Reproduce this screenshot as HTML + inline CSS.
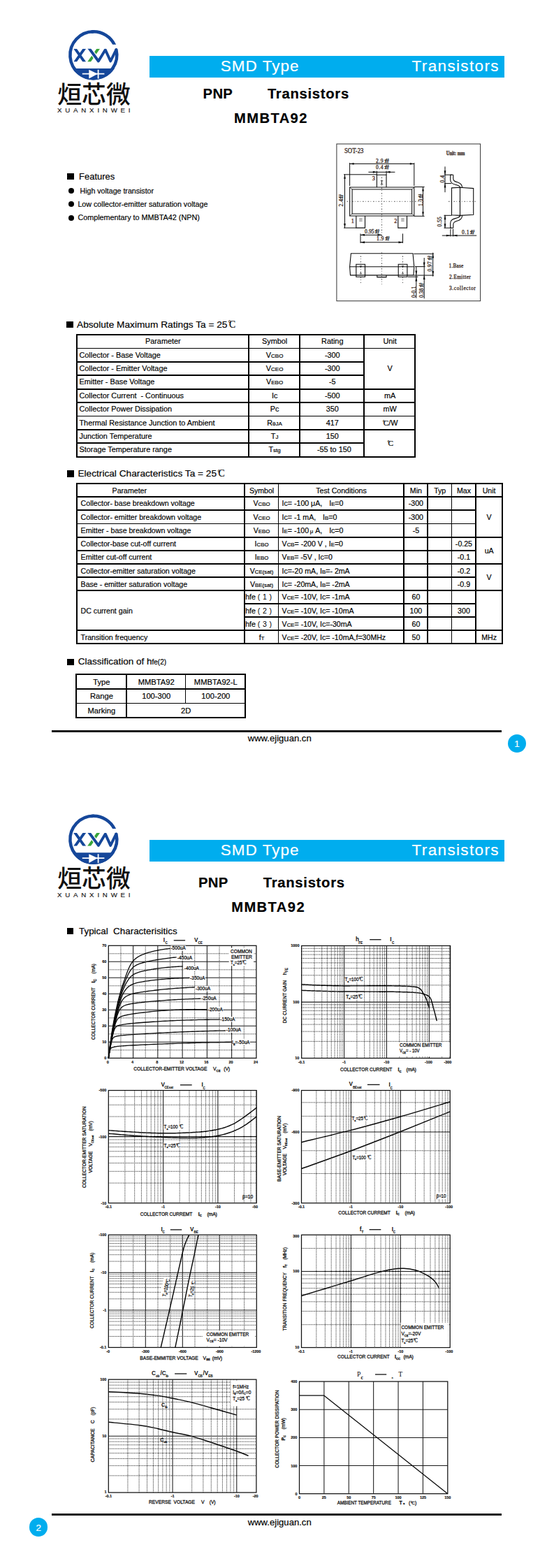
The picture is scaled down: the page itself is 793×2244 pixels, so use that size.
<!DOCTYPE html>
<html><head><meta charset="utf-8"><title>MMBTA92</title>
<style>
html,body{margin:0;padding:0;background:#fff}
#pg{position:relative;width:793px;height:2244px;overflow:hidden;background:#fff;font-family:"Liberation Sans",sans-serif;color:#000}
.t{position:absolute;white-space:nowrap;-webkit-text-stroke:0.18px currentColor}
.r{position:absolute}
#ov{position:absolute;left:0;top:0}
svg text{font-family:"Liberation Sans",sans-serif}
</style></head>
<body>
<div id="pg">
<div class="t" style="left:82.00px;top:153.49px;font-size:9.7px;line-height:9.7px;letter-spacing:4.8px;color:#1a1a1a;">XUANXINWEI</div>
<div class="r" style="left:214.00px;top:80.00px;width:508.00px;height:30.50px;background:#00adee"></div>
<div class="t" style="left:315.80px;top:83.65px;font-size:22.5px;line-height:22.5px;letter-spacing:1.0px;color:#fff;">SMD Type</div>
<div class="t" style="left:589.60px;top:83.65px;font-size:22.5px;line-height:22.5px;letter-spacing:1.35px;color:#fff;">Transistors</div>
<div class="t" style="left:290.60px;top:124.42px;font-size:20.3px;line-height:20.3px;font-weight:bold;letter-spacing:0.3px;">PNP</div>
<div class="t" style="left:382.90px;top:124.42px;font-size:20.3px;line-height:20.3px;font-weight:bold;letter-spacing:0.7px;">Transistors</div>
<div class="t" style="left:335.00px;top:159.40px;font-size:20.2px;line-height:20.2px;font-weight:bold;letter-spacing:1.4px;">MMBTA92</div>
<div class="r" style="left:96.10px;top:247.80px;width:9.60px;height:9.40px;background:#000"></div>
<div class="t" style="left:113.00px;top:246.20px;font-size:13px;line-height:13px;">Features</div>
<div class="r" style="left:98.3px;top:269.30px;width:7.8px;height:7.8px;border-radius:50%;background:#000"></div>
<div class="t" style="left:114.60px;top:267.93px;font-size:10.6px;line-height:10.6px;">High voltage transistor</div>
<div class="r" style="left:98.3px;top:288.30px;width:7.8px;height:7.8px;border-radius:50%;background:#000"></div>
<div class="t" style="left:111.40px;top:286.84px;font-size:10.7px;line-height:10.7px;">Low collector-emitter saturation voltage</div>
<div class="r" style="left:98.3px;top:307.90px;width:7.8px;height:7.8px;border-radius:50%;background:#000"></div>
<div class="t" style="left:111.40px;top:306.36px;font-size:10.8px;line-height:10.8px;">Complementary to MMBTA42 (NPN)</div>
<div class="r" style="left:95.00px;top:460.00px;width:9.60px;height:9.20px;background:#000"></div>
<div class="t" style="left:110.00px;top:457.60px;font-size:13.7px;line-height:13.7px;">Absolute Maximum Ratings Ta = 25<span style="font-family:'Liberation Serif',serif;font-size:1.0em;letter-spacing:-0.2em;margin-left:0.1em;margin-right:0.2em"><span style="font-size:0.7em;position:relative;top:-0.22em">°</span>C</span></div>
<div class="r" style="left:108.50px;top:478.10px;width:486.60px;height:2.20px;background:#000"></div>
<div class="r" style="left:108.50px;top:652.61px;width:486.60px;height:2.20px;background:#000"></div>
<div class="r" style="left:108.50px;top:479.20px;width:2.20px;height:174.51px;background:#000"></div>
<div class="r" style="left:592.90px;top:479.20px;width:2.20px;height:174.51px;background:#000"></div>
<div class="r" style="left:355.10px;top:479.20px;width:1.80px;height:174.51px;background:#000"></div>
<div class="r" style="left:428.30px;top:479.20px;width:1.80px;height:174.51px;background:#000"></div>
<div class="r" style="left:520.40px;top:479.20px;width:1.80px;height:174.51px;background:#000"></div>
<div class="r" style="left:109.60px;top:497.69px;width:484.40px;height:1.80px;background:#000"></div>
<div class="r" style="left:109.60px;top:517.08px;width:411.70px;height:1.80px;background:#000"></div>
<div class="r" style="left:109.60px;top:536.47px;width:411.70px;height:1.80px;background:#000"></div>
<div class="r" style="left:109.60px;top:555.86px;width:484.40px;height:1.80px;background:#000"></div>
<div class="r" style="left:109.60px;top:575.25px;width:484.40px;height:1.80px;background:#000"></div>
<div class="r" style="left:109.60px;top:594.64px;width:484.40px;height:1.80px;background:#000"></div>
<div class="r" style="left:109.60px;top:614.03px;width:484.40px;height:1.80px;background:#000"></div>
<div class="r" style="left:109.60px;top:633.42px;width:411.70px;height:1.80px;background:#000"></div>
<div class="t" style="left:233.30px;top:483.22px;font-size:10.85px;line-height:10.85px;transform:translateX(-50%);">Parameter</div>
<div class="t" style="left:393.10px;top:483.22px;font-size:10.85px;line-height:10.85px;transform:translateX(-50%);">Symbol</div>
<div class="t" style="left:475.75px;top:483.22px;font-size:10.85px;line-height:10.85px;transform:translateX(-50%);">Rating</div>
<div class="t" style="left:558.15px;top:483.22px;font-size:10.85px;line-height:10.85px;transform:translateX(-50%);">Unit</div>
<div class="t" style="left:113.50px;top:502.61px;font-size:10.85px;line-height:10.85px;">Collector - Base Voltage</div>
<div class="t" style="left:393.10px;top:502.61px;font-size:10.85px;line-height:10.85px;transform:translateX(-50%);">V<span style="font-size:0.74em;-webkit-text-stroke:0.2px #000">CBO</span></div>
<div class="t" style="left:475.75px;top:502.61px;font-size:10.85px;line-height:10.85px;transform:translateX(-50%);">-300</div>
<div class="t" style="left:113.50px;top:522.00px;font-size:10.85px;line-height:10.85px;">Collector - Emitter Voltage</div>
<div class="t" style="left:393.10px;top:522.00px;font-size:10.85px;line-height:10.85px;transform:translateX(-50%);">V<span style="font-size:0.74em;-webkit-text-stroke:0.2px #000">CEO</span></div>
<div class="t" style="left:475.75px;top:522.00px;font-size:10.85px;line-height:10.85px;transform:translateX(-50%);">-300</div>
<div class="t" style="left:113.50px;top:541.39px;font-size:10.85px;line-height:10.85px;">Emitter - Base Voltage</div>
<div class="t" style="left:393.10px;top:541.39px;font-size:10.85px;line-height:10.85px;transform:translateX(-50%);">V<span style="font-size:0.74em;-webkit-text-stroke:0.2px #000">EBO</span></div>
<div class="t" style="left:475.75px;top:541.39px;font-size:10.85px;line-height:10.85px;transform:translateX(-50%);">-5</div>
<div class="t" style="left:113.50px;top:560.78px;font-size:10.85px;line-height:10.85px;">Collector Current&nbsp; - Continuous</div>
<div class="t" style="left:393.10px;top:560.78px;font-size:10.85px;line-height:10.85px;transform:translateX(-50%);">Ic</div>
<div class="t" style="left:475.75px;top:560.78px;font-size:10.85px;line-height:10.85px;transform:translateX(-50%);">-500</div>
<div class="t" style="left:113.50px;top:580.17px;font-size:10.85px;line-height:10.85px;">Collector Power Dissipation</div>
<div class="t" style="left:393.10px;top:580.17px;font-size:10.85px;line-height:10.85px;transform:translateX(-50%);">Pc</div>
<div class="t" style="left:475.75px;top:580.17px;font-size:10.85px;line-height:10.85px;transform:translateX(-50%);">350</div>
<div class="t" style="left:113.50px;top:599.56px;font-size:10.85px;line-height:10.85px;">Thermal Resistance Junction to Ambient</div>
<div class="t" style="left:393.10px;top:599.56px;font-size:10.85px;line-height:10.85px;transform:translateX(-50%);">R<span style="font-size:0.74em;-webkit-text-stroke:0.2px #000">θJA</span></div>
<div class="t" style="left:475.75px;top:599.56px;font-size:10.85px;line-height:10.85px;transform:translateX(-50%);">417</div>
<div class="t" style="left:113.50px;top:618.95px;font-size:10.85px;line-height:10.85px;">Junction Temperature</div>
<div class="t" style="left:393.10px;top:618.95px;font-size:10.85px;line-height:10.85px;transform:translateX(-50%);">T<span style="font-size:0.74em;-webkit-text-stroke:0.2px #000">J</span></div>
<div class="t" style="left:475.75px;top:618.95px;font-size:10.85px;line-height:10.85px;transform:translateX(-50%);">150</div>
<div class="t" style="left:113.50px;top:638.34px;font-size:10.85px;line-height:10.85px;">Storage Temperature range</div>
<div class="t" style="left:393.10px;top:638.34px;font-size:10.85px;line-height:10.85px;transform:translateX(-50%);">T<span style="font-size:0.74em;-webkit-text-stroke:0.2px #000">stg</span></div>
<div class="t" style="left:478.35px;top:638.34px;font-size:10.85px;line-height:10.85px;transform:translateX(-50%);">-55 to 150</div>
<div class="t" style="left:558.15px;top:522.00px;font-size:10.85px;line-height:10.85px;transform:translateX(-50%);">V</div>
<div class="t" style="left:558.15px;top:560.78px;font-size:10.85px;line-height:10.85px;transform:translateX(-50%);">mA</div>
<div class="t" style="left:558.15px;top:580.17px;font-size:10.85px;line-height:10.85px;transform:translateX(-50%);">mW</div>
<div class="t" style="left:558.15px;top:599.56px;font-size:10.85px;line-height:10.85px;transform:translateX(-50%);"><span style="font-family:'Liberation Serif',serif;font-size:1.05em;letter-spacing:-0.2em;margin-left:0.1em;margin-right:0.2em"><span style="font-size:0.7em;position:relative;top:-0.22em">°</span>C</span>/W</div>
<div class="t" style="left:558.15px;top:628.64px;font-size:10.85px;line-height:10.85px;transform:translateX(-50%);"><span style="font-family:'Liberation Serif',serif;font-size:1.05em;letter-spacing:-0.2em;margin-left:0.1em;margin-right:0.2em"><span style="font-size:0.7em;position:relative;top:-0.22em">°</span>C</span></div>
<div class="r" style="left:96.20px;top:673.30px;width:9.80px;height:9.30px;background:#000"></div>
<div class="t" style="left:111.40px;top:671.30px;font-size:13.7px;line-height:13.7px;">Electrical Characteristics Ta = 25<span style="font-family:'Liberation Serif',serif;font-size:1.0em;letter-spacing:-0.2em;margin-left:0.1em;margin-right:0.2em"><span style="font-size:0.7em;position:relative;top:-0.22em">°</span>C</span></div>
<div class="r" style="left:109.10px;top:691.30px;width:610.80px;height:2.20px;background:#000"></div>
<div class="r" style="left:109.10px;top:919.70px;width:610.80px;height:2.20px;background:#000"></div>
<div class="r" style="left:109.10px;top:692.40px;width:2.20px;height:228.40px;background:#000"></div>
<div class="r" style="left:717.70px;top:692.40px;width:2.20px;height:228.40px;background:#000"></div>
<div class="r" style="left:349.00px;top:692.40px;width:1.80px;height:228.40px;background:#000"></div>
<div class="r" style="left:397.50px;top:692.40px;width:1.80px;height:228.40px;background:#000"></div>
<div class="r" style="left:576.90px;top:692.40px;width:1.80px;height:228.40px;background:#000"></div>
<div class="r" style="left:611.30px;top:692.40px;width:1.80px;height:228.40px;background:#000"></div>
<div class="r" style="left:645.50px;top:692.40px;width:1.80px;height:228.40px;background:#000"></div>
<div class="r" style="left:679.80px;top:692.40px;width:1.80px;height:228.40px;background:#000"></div>
<div class="r" style="left:110.20px;top:710.00px;width:608.60px;height:1.80px;background:#000"></div>
<div class="r" style="left:110.20px;top:729.30px;width:570.50px;height:1.80px;background:#000"></div>
<div class="r" style="left:110.20px;top:748.50px;width:570.50px;height:1.80px;background:#000"></div>
<div class="r" style="left:110.20px;top:767.90px;width:608.60px;height:1.80px;background:#000"></div>
<div class="r" style="left:110.20px;top:786.90px;width:570.50px;height:1.80px;background:#000"></div>
<div class="r" style="left:110.20px;top:806.40px;width:608.60px;height:1.80px;background:#000"></div>
<div class="r" style="left:110.20px;top:825.30px;width:570.50px;height:1.80px;background:#000"></div>
<div class="r" style="left:110.20px;top:844.00px;width:608.60px;height:1.80px;background:#000"></div>
<div class="r" style="left:349.90px;top:863.40px;width:330.80px;height:1.80px;background:#000"></div>
<div class="r" style="left:349.90px;top:882.40px;width:330.80px;height:1.80px;background:#000"></div>
<div class="r" style="left:110.20px;top:901.40px;width:608.60px;height:1.80px;background:#000"></div>
<div class="t" style="left:185.30px;top:696.83px;font-size:10.6px;line-height:10.6px;transform:translateX(-50%);">Parameter</div>
<div class="t" style="left:374.55px;top:696.83px;font-size:10.6px;line-height:10.6px;transform:translateX(-50%);">Symbol</div>
<div class="t" style="left:488.50px;top:696.83px;font-size:10.6px;line-height:10.6px;transform:translateX(-50%);">Test Conditions</div>
<div class="t" style="left:595.40px;top:696.83px;font-size:10.6px;line-height:10.6px;transform:translateX(-50%);">Min</div>
<div class="t" style="left:629.70px;top:696.83px;font-size:10.6px;line-height:10.6px;transform:translateX(-50%);">Typ</div>
<div class="t" style="left:663.95px;top:696.83px;font-size:10.6px;line-height:10.6px;transform:translateX(-50%);">Max</div>
<div class="t" style="left:700.15px;top:696.83px;font-size:10.6px;line-height:10.6px;transform:translateX(-50%);">Unit</div>
<div class="t" style="left:115.60px;top:715.33px;font-size:10.6px;line-height:10.6px;">Collector- base breakdown voltage</div>
<div class="t" style="left:374.55px;top:715.33px;font-size:10.6px;line-height:10.6px;transform:translateX(-50%);">V<span style="font-size:0.74em;-webkit-text-stroke:0.2px #000">CBO</span></div>
<div class="t" style="left:403.60px;top:715.33px;font-size:10.6px;line-height:10.6px;">Ic= -100 μA,<span style="margin-left:7.0px"></span> I<span style="font-size:0.74em;-webkit-text-stroke:0.2px #000">E</span>=0</div>
<div class="t" style="left:595.40px;top:715.33px;font-size:10.6px;line-height:10.6px;transform:translateX(-50%);">-300</div>
<div class="t" style="left:115.60px;top:734.63px;font-size:10.6px;line-height:10.6px;">Collector- emitter breakdown voltage</div>
<div class="t" style="left:374.55px;top:734.63px;font-size:10.6px;line-height:10.6px;transform:translateX(-50%);">V<span style="font-size:0.74em;-webkit-text-stroke:0.2px #000">CEO</span></div>
<div class="t" style="left:403.60px;top:734.63px;font-size:10.6px;line-height:10.6px;">Ic= -1 mA,<span style="margin-left:7.0px"></span> I<span style="font-size:0.74em;-webkit-text-stroke:0.2px #000">B</span>=0</div>
<div class="t" style="left:595.40px;top:734.63px;font-size:10.6px;line-height:10.6px;transform:translateX(-50%);">-300</div>
<div class="t" style="left:115.60px;top:753.83px;font-size:10.6px;line-height:10.6px;">Emitter - base breakdown voltage</div>
<div class="t" style="left:374.55px;top:753.83px;font-size:10.6px;line-height:10.6px;transform:translateX(-50%);">V<span style="font-size:0.74em;-webkit-text-stroke:0.2px #000">EBO</span></div>
<div class="t" style="left:403.60px;top:753.83px;font-size:10.6px;line-height:10.6px;">I<span style="font-size:0.74em;-webkit-text-stroke:0.2px #000">E</span>= -100<span style="margin-left:1.6px"></span><span style="font-size:0.74em;-webkit-text-stroke:0.2px #000">μ</span> A,<span style="margin-left:7.0px"></span> Ic=0</div>
<div class="t" style="left:595.40px;top:753.83px;font-size:10.6px;line-height:10.6px;transform:translateX(-50%);">-5</div>
<div class="t" style="left:115.60px;top:773.23px;font-size:10.6px;line-height:10.6px;">Collector-base cut-off current</div>
<div class="t" style="left:374.55px;top:773.23px;font-size:10.6px;line-height:10.6px;transform:translateX(-50%);">I<span style="font-size:0.74em;-webkit-text-stroke:0.2px #000">CBO</span></div>
<div class="t" style="left:403.60px;top:773.23px;font-size:10.6px;line-height:10.6px;">V<span style="font-size:0.74em;-webkit-text-stroke:0.2px #000">CB</span>= -200 V , I<span style="font-size:0.74em;-webkit-text-stroke:0.2px #000">E</span>=0</div>
<div class="t" style="left:663.95px;top:773.23px;font-size:10.6px;line-height:10.6px;transform:translateX(-50%);">-0.25</div>
<div class="t" style="left:115.60px;top:792.23px;font-size:10.6px;line-height:10.6px;">Emitter cut-off current</div>
<div class="t" style="left:374.55px;top:792.23px;font-size:10.6px;line-height:10.6px;transform:translateX(-50%);">I<span style="font-size:0.74em;-webkit-text-stroke:0.2px #000">EBO</span></div>
<div class="t" style="left:403.60px;top:792.23px;font-size:10.6px;line-height:10.6px;">V<span style="font-size:0.74em;-webkit-text-stroke:0.2px #000">EB</span>= -5V , Ic=0</div>
<div class="t" style="left:663.95px;top:792.23px;font-size:10.6px;line-height:10.6px;transform:translateX(-50%);">-0.1</div>
<div class="t" style="left:115.60px;top:811.73px;font-size:10.6px;line-height:10.6px;">Collector-emitter saturation voltage</div>
<div class="t" style="left:374.55px;top:811.73px;font-size:10.6px;line-height:10.6px;transform:translateX(-50%);">V<span style="font-size:0.74em;-webkit-text-stroke:0.2px #000">CE(sat)</span></div>
<div class="t" style="left:403.60px;top:811.73px;font-size:10.6px;line-height:10.6px;">Ic=-20 mA, I<span style="font-size:0.74em;-webkit-text-stroke:0.2px #000">B</span>=- 2mA</div>
<div class="t" style="left:663.95px;top:811.73px;font-size:10.6px;line-height:10.6px;transform:translateX(-50%);">-0.2</div>
<div class="t" style="left:115.60px;top:830.63px;font-size:10.6px;line-height:10.6px;">Base - emitter saturation voltage</div>
<div class="t" style="left:374.55px;top:830.63px;font-size:10.6px;line-height:10.6px;transform:translateX(-50%);">V<span style="font-size:0.74em;-webkit-text-stroke:0.2px #000">BE(sat)</span></div>
<div class="t" style="left:403.60px;top:830.63px;font-size:10.6px;line-height:10.6px;">Ic= -20mA, I<span style="font-size:0.74em;-webkit-text-stroke:0.2px #000">B</span>= -2mA</div>
<div class="t" style="left:663.95px;top:830.63px;font-size:10.6px;line-height:10.6px;transform:translateX(-50%);">-0.9</div>
<div class="t" style="left:351.20px;top:849.33px;font-size:10.6px;line-height:10.6px;">hfe&nbsp;<span style="letter-spacing:3.6px;-webkit-text-stroke:0">(1)</span></div>
<div class="t" style="left:403.60px;top:849.33px;font-size:10.6px;line-height:10.6px;">V<span style="font-size:0.74em;-webkit-text-stroke:0.2px #000">CE</span>= -10V, Ic= -1mA</div>
<div class="t" style="left:595.40px;top:849.33px;font-size:10.6px;line-height:10.6px;transform:translateX(-50%);">60</div>
<div class="t" style="left:115.60px;top:868.73px;font-size:10.6px;line-height:10.6px;">DC current gain</div>
<div class="t" style="left:351.20px;top:868.73px;font-size:10.6px;line-height:10.6px;">hfe&nbsp;<span style="letter-spacing:3.6px;-webkit-text-stroke:0">(2)</span></div>
<div class="t" style="left:403.60px;top:868.73px;font-size:10.6px;line-height:10.6px;">V<span style="font-size:0.74em;-webkit-text-stroke:0.2px #000">CE</span>= -10V, Ic= -10mA</div>
<div class="t" style="left:595.40px;top:868.73px;font-size:10.6px;line-height:10.6px;transform:translateX(-50%);">100</div>
<div class="t" style="left:663.95px;top:868.73px;font-size:10.6px;line-height:10.6px;transform:translateX(-50%);">300</div>
<div class="t" style="left:351.20px;top:887.73px;font-size:10.6px;line-height:10.6px;">hfe&nbsp;<span style="letter-spacing:3.6px;-webkit-text-stroke:0">(3)</span></div>
<div class="t" style="left:403.60px;top:887.73px;font-size:10.6px;line-height:10.6px;">V<span style="font-size:0.74em;-webkit-text-stroke:0.2px #000">CE</span>= -10V, Ic=-30mA</div>
<div class="t" style="left:595.40px;top:887.73px;font-size:10.6px;line-height:10.6px;transform:translateX(-50%);">60</div>
<div class="t" style="left:115.60px;top:906.73px;font-size:10.6px;line-height:10.6px;">Transition frequency</div>
<div class="t" style="left:374.55px;top:906.73px;font-size:10.6px;line-height:10.6px;transform:translateX(-50%);">f<span style="font-size:0.74em;-webkit-text-stroke:0.2px #000">T</span></div>
<div class="t" style="left:403.60px;top:906.73px;font-size:10.6px;line-height:10.6px;">V<span style="font-size:0.74em;-webkit-text-stroke:0.2px #000">CE</span>= -20V, Ic= -10mA,f=30MHz</div>
<div class="t" style="left:595.40px;top:906.73px;font-size:10.6px;line-height:10.6px;transform:translateX(-50%);">50</div>
<div class="t" style="left:700.15px;top:734.63px;font-size:10.6px;line-height:10.6px;transform:translateX(-50%);">V</div>
<div class="t" style="left:700.15px;top:782.74px;font-size:10.6px;line-height:10.6px;transform:translateX(-50%);">uA</div>
<div class="t" style="left:700.15px;top:821.24px;font-size:10.6px;line-height:10.6px;transform:translateX(-50%);">V</div>
<div class="t" style="left:700.15px;top:906.73px;font-size:10.6px;line-height:10.6px;transform:translateX(-50%);">MHz</div>
<div class="r" style="left:96.40px;top:942.60px;width:9.60px;height:9.20px;background:#000"></div>
<div class="t" style="left:111.70px;top:939.97px;font-size:13.5px;line-height:13.5px;">Classification of h<span style="font-size:0.74em;-webkit-text-stroke:0.2px #000">fe(2)</span></div>
<div class="r" style="left:107.80px;top:964.20px;width:244.60px;height:2.20px;background:#000"></div>
<div class="r" style="left:107.80px;top:1025.70px;width:244.60px;height:2.20px;background:#000"></div>
<div class="r" style="left:107.80px;top:965.30px;width:2.20px;height:61.50px;background:#000"></div>
<div class="r" style="left:350.20px;top:965.30px;width:2.20px;height:61.50px;background:#000"></div>
<div class="r" style="left:180.20px;top:965.30px;width:1.80px;height:61.50px;background:#000"></div>
<div class="r" style="left:264.60px;top:965.30px;width:1.80px;height:41.20px;background:#000"></div>
<div class="r" style="left:108.90px;top:985.00px;width:242.40px;height:1.80px;background:#000"></div>
<div class="r" style="left:108.90px;top:1005.60px;width:242.40px;height:1.80px;background:#000"></div>
<div class="t" style="left:145.40px;top:970.62px;font-size:11.2px;line-height:11.2px;transform:translateX(-50%);">Type</div>
<div class="t" style="left:223.70px;top:970.62px;font-size:11.2px;line-height:11.2px;transform:translateX(-50%);">MMBTA92</div>
<div class="t" style="left:308.80px;top:970.62px;font-size:11.2px;line-height:11.2px;transform:translateX(-50%);">MMBTA92-L</div>
<div class="t" style="left:145.40px;top:991.22px;font-size:11.2px;line-height:11.2px;transform:translateX(-50%);">Range</div>
<div class="t" style="left:223.70px;top:991.22px;font-size:11.2px;line-height:11.2px;transform:translateX(-50%);">100-300</div>
<div class="t" style="left:308.80px;top:991.22px;font-size:11.2px;line-height:11.2px;transform:translateX(-50%);">100-200</div>
<div class="t" style="left:145.40px;top:1011.82px;font-size:11.2px;line-height:11.2px;transform:translateX(-50%);">Marking</div>
<div class="t" style="left:266.20px;top:1011.82px;font-size:11.2px;line-height:11.2px;transform:translateX(-50%);">2D</div>
<div class="r" style="left:74.10px;top:1044.80px;width:644.00px;height:3.00px;background:#161616"></div>
<div class="t" style="left:400.20px;top:1050.21px;font-size:13.1px;line-height:13.1px;transform:translateX(-50%);">www.ejiguan.cn</div>
<div class="r" style="left:726.70px;top:1050.60px;width:26.4px;height:26.4px;border-radius:50%;background:#00adee"></div>
<div class="t" style="left:739.90px;top:1057.76px;font-size:13.4px;line-height:13.4px;color:#fff;transform:translateX(-50%);">1</div>
<div class="t" style="left:82.00px;top:1275.89px;font-size:9.7px;line-height:9.7px;letter-spacing:4.8px;color:#1a1a1a;">XUANXINWEI</div>
<div class="r" style="left:214.00px;top:1202.40px;width:508.00px;height:30.50px;background:#00adee"></div>
<div class="t" style="left:315.80px;top:1206.05px;font-size:22.5px;line-height:22.5px;letter-spacing:1.0px;color:#fff;">SMD Type</div>
<div class="t" style="left:589.60px;top:1206.05px;font-size:22.5px;line-height:22.5px;letter-spacing:1.35px;color:#fff;">Transistors</div>
<div class="t" style="left:284.00px;top:1253.22px;font-size:20.3px;line-height:20.3px;font-weight:bold;letter-spacing:0.3px;">PNP</div>
<div class="t" style="left:376.70px;top:1253.22px;font-size:20.3px;line-height:20.3px;font-weight:bold;letter-spacing:0.7px;">Transistors</div>
<div class="t" style="left:331.20px;top:1288.20px;font-size:20.2px;line-height:20.2px;font-weight:bold;letter-spacing:1.4px;">MMBTA92</div>
<div class="r" style="left:96.10px;top:1328.00px;width:9.40px;height:9.20px;background:#000"></div>
<div class="t" style="left:113.00px;top:1326.16px;font-size:13.4px;line-height:13.4px;">Typical&nbsp; Characterisitics</div>
<div class="r" style="left:74.10px;top:2166.30px;width:644.00px;height:3.00px;background:#161616"></div>
<div class="t" style="left:400.20px;top:2171.71px;font-size:13.1px;line-height:13.1px;transform:translateX(-50%);">www.ejiguan.cn</div>
<div class="r" style="left:42.00px;top:2172.40px;width:26.4px;height:26.4px;border-radius:50%;background:#00adee"></div>
<div class="t" style="left:55.20px;top:2179.56px;font-size:13.4px;line-height:13.4px;color:#fff;transform:translateX(-50%);">2</div>
<svg id="ov" width="793" height="2244" viewBox="0 0 793 2244">
<g transform="translate(0,0)"><defs><clipPath id="cA0"><rect x="100" y="69.7" width="70" height="18.7"/></clipPath><clipPath id="cB0"><rect x="100" y="69.7" width="70" height="26"/></clipPath><clipPath id="cC0"><rect x="100" y="30" width="80" height="33.7"/></clipPath></defs><path d="M166.40,71.3 A33.45,33.45 0 1 1 133.8,45.349999999999994" fill="none" stroke="#15479a" stroke-width="4.5" stroke-linecap="round"/><path clip-path="url(#cC0)" d="M130.8,45.49 A33.45,33.45 0 0 1 165.10,67" fill="none" stroke="#15479a" stroke-width="4.5"/><path d="M103.64,97.9 A35.7,35.7 0 0 0 163.96,97.9 Z" fill="#15479a"/><g clip-path="url(#cA0)"><path d="M105.2,69.7 H109.9 L123.2,88.4 H118.4 Z M118.4,69.7 H123.2 L109.9,88.4 H105.2 Z" fill="#15479a"/><path d="M138.3,69.7 H143.1 L129.9,88.4 H125.1 Z" fill="#38a53a"/></g><g clip-path="url(#cB0)"><path d="M126.43,67.7 L140.9,87.5" stroke="#fff" stroke-width="6.4" fill="none"/><path d="M126.43,67.7 L140.9,87.5 L150.8,71.2 L158.2,87.5 L166.20,71.30" stroke="#15479a" stroke-width="3.9" fill="none" stroke-linejoin="round" stroke-linecap="round"/></g><path d="M117.8,105.7 H149.4" stroke="#fff" stroke-width="1.8"/><path d="M127.3,99.8 L139.8,105.7 L127.3,112.6 Z" fill="#fff"/><path d="M140.6,99.8 V112.6" stroke="#fff" stroke-width="1.8"/><text x="82.30 117.10 151.90" y="147.6" font-size="34.8" fill="#111" style="font-family:'Liberation Sans','Noto Sans CJK SC',sans-serif;font-weight:500">烜芯微</text></g>
<g id="pkg"><rect x="481.9" y="206.0" width="205.7" height="224.7" fill="none" stroke="#333" stroke-width="1"/><text x="493.00" y="218.90" font-size="9.4" style="font-family:'Liberation Serif',serif;letter-spacing:0px" text-anchor="start" fill="#3a2c26" stroke="#3a2c26" stroke-width="0.3" textLength="27.4" lengthAdjust="spacingAndGlyphs">SOT-23</text><text x="638.80" y="221.70" font-size="7.6" style="font-family:'Liberation Serif',serif;font-weight:bold;letter-spacing:0px" text-anchor="start" fill="#3a2c26" stroke="#3a2c26" stroke-width="0.3" textLength="26.7" lengthAdjust="spacingAndGlyphs">Unit: mm</text><path d="M500.6,268 H592.8 V308.9 H500.6 Z" stroke="#0c0c0c" stroke-width="1.05" fill="none"/><path d="M504.1,271 H589.6 V305.9 H504.1 Z" stroke="#0c0c0c" stroke-width="1.05" fill="none"/><path d="M500.60,268.00 L504.10,271.00" stroke="#0c0c0c" stroke-width="0.7" fill="none"/><path d="M592.80,268.00 L589.60,271.00" stroke="#0c0c0c" stroke-width="0.7" fill="none"/><path d="M500.60,308.90 L504.10,305.90" stroke="#0c0c0c" stroke-width="0.7" fill="none"/><path d="M592.80,308.90 L589.60,305.90" stroke="#0c0c0c" stroke-width="0.7" fill="none"/><path d="M539.4,268 V250.3 H553 V268" stroke="#0c0c0c" stroke-width="1.1" fill="none"/><path d="M509.8,308.9 V326.1 H522.5 V308.9" stroke="#0c0c0c" stroke-width="1.1" fill="none"/><path d="M569.8,308.9 V326.1 H582.5 V308.9" stroke="#0c0c0c" stroke-width="1.1" fill="none"/><path d="M514.20,313.40 L518.60,313.40" stroke="#0c0c0c" stroke-width="0.7" fill="none"/><path d="M514.20,316.00 L518.60,316.00" stroke="#0c0c0c" stroke-width="0.7" fill="none"/><path d="M574.20,313.40 L578.60,313.40" stroke="#0c0c0c" stroke-width="0.7" fill="none"/><path d="M574.20,316.00 L578.60,316.00" stroke="#0c0c0c" stroke-width="0.7" fill="none"/><path d="M544.7,258.8 H548.3 M544.7,263.8 H548.3 M546.5,258.8 V263.8" stroke="#0c0c0c" stroke-width="0.8" fill="none"/><path d="M546.50,253.50 L546.50,343.00" stroke="#0c0c0c" stroke-width="0.7" fill="none" stroke-dasharray="1.7 2.2 0.8 2.8"/><path d="M496.50,288.30 L607.80,288.30" stroke="#0c0c0c" stroke-width="0.7" fill="none" stroke-dasharray="1.7 2.2 0.8 2.8"/><path d="M500.60,233.00 L500.60,266.00" stroke="#0c0c0c" stroke-width="1.0" fill="none"/><path d="M592.80,233.00 L592.80,266.00" stroke="#0c0c0c" stroke-width="1.0" fill="none"/><path d="M500.60,234.40 L592.80,234.40" stroke="#0c0c0c" stroke-width="1.0" fill="none"/><path d="M500.60,234.40 L506.60,232.95 L506.60,235.85 Z" fill="#0c0c0c"/><path d="M592.80,234.40 L586.80,232.95 L586.80,235.85 Z" fill="#0c0c0c"/><text x="538.00" y="232.70" font-size="7.6" style="font-family:'Liberation Serif',serif;letter-spacing:0.5px" text-anchor="start" fill="#3a2c26" stroke="#3a2c26" stroke-width="0.3">2.9</text><g><text x="550.60" y="229.80" font-size="3.1" stroke="#333" stroke-width="0.35" style="font-family:'Liberation Sans',sans-serif;font-weight:bold" fill="#333">+0.1</text><text x="550.60" y="232.80" font-size="3.1" stroke="#333" stroke-width="0.35" style="font-family:'Liberation Sans',sans-serif;font-weight:bold" fill="#333">-0.1</text></g><path d="M539.40,244.60 L539.40,250.30" stroke="#0c0c0c" stroke-width="1.0" fill="none"/><path d="M553.00,244.60 L553.00,250.30" stroke="#0c0c0c" stroke-width="1.0" fill="none"/><path d="M527.40,246.30 L565.40,246.30" stroke="#0c0c0c" stroke-width="1.0" fill="none"/><path d="M539.40,246.30 L533.80,244.85 L533.80,247.75 Z" fill="#0c0c0c"/><path d="M553.00,246.30 L558.60,244.85 L558.60,247.75 Z" fill="#0c0c0c"/><text x="538.00" y="241.80" font-size="7.6" style="font-family:'Liberation Serif',serif;letter-spacing:0.5px" text-anchor="start" fill="#3a2c26" stroke="#3a2c26" stroke-width="0.3">0.4</text><g><text x="550.60" y="238.90" font-size="3.1" stroke="#333" stroke-width="0.35" style="font-family:'Liberation Sans',sans-serif;font-weight:bold" fill="#333">+0.1</text><text x="550.60" y="241.90" font-size="3.1" stroke="#333" stroke-width="0.35" style="font-family:'Liberation Sans',sans-serif;font-weight:bold" fill="#333">-0.1</text></g><path d="M492.00,249.80 L539.40,249.80" stroke="#0c0c0c" stroke-width="1.0" fill="none"/><path d="M492.00,326.10 L509.80,326.10" stroke="#0c0c0c" stroke-width="1.0" fill="none"/><path d="M493.50,249.80 L493.50,326.10" stroke="#0c0c0c" stroke-width="1.0" fill="none"/><path d="M493.50,249.80 L492.05,255.80 L494.95,255.80 Z" fill="#0c0c0c"/><path d="M493.50,326.10 L492.05,320.10 L494.95,320.10 Z" fill="#0c0c0c"/><text x="491.00" y="295.50" font-size="7.6" style="font-family:'Liberation Serif',serif;letter-spacing:0.5px" text-anchor="start" fill="#3a2c26" stroke="#3a2c26" stroke-width="0.3" transform="rotate(-90 491.00 295.50)">2.4</text><g transform="rotate(-90 491.00 284.50)"><text x="491.00" y="281.50" font-size="3.1" stroke="#333" stroke-width="0.35" style="font-family:'Liberation Sans',sans-serif;font-weight:bold" fill="#333">+0.1</text><text x="491.00" y="284.50" font-size="3.1" stroke="#333" stroke-width="0.35" style="font-family:'Liberation Sans',sans-serif;font-weight:bold" fill="#333">-0.1</text></g><path d="M592.80,267.50 L607.60,267.50" stroke="#0c0c0c" stroke-width="1.0" fill="none"/><path d="M592.80,309.30 L607.60,309.30" stroke="#0c0c0c" stroke-width="1.0" fill="none"/><path d="M605.50,267.50 L605.50,309.30" stroke="#0c0c0c" stroke-width="1.0" fill="none"/><path d="M605.50,267.50 L604.05,273.50 L606.95,273.50 Z" fill="#0c0c0c"/><path d="M605.50,309.30 L604.05,303.30 L606.95,303.30 Z" fill="#0c0c0c"/><text x="604.60" y="295.00" font-size="7.6" style="font-family:'Liberation Serif',serif;letter-spacing:0.5px" text-anchor="start" fill="#3a2c26" stroke="#3a2c26" stroke-width="0.3" transform="rotate(-90 604.60 295.00)">1.3</text><g transform="rotate(-90 604.60 283.60)"><text x="604.60" y="280.60" font-size="3.1" stroke="#333" stroke-width="0.35" style="font-family:'Liberation Sans',sans-serif;font-weight:bold" fill="#333">+0.1</text><text x="604.60" y="283.60" font-size="3.1" stroke="#333" stroke-width="0.35" style="font-family:'Liberation Sans',sans-serif;font-weight:bold" fill="#333">-0.1</text></g><text x="532.80" y="257.80" font-size="8.2" style="font-family:'Liberation Serif',serif;letter-spacing:0px" text-anchor="start" fill="#5a2f24" stroke="#5a2f24" stroke-width="0.3">3</text><text x="502.80" y="319.00" font-size="8.2" style="font-family:'Liberation Serif',serif;letter-spacing:0px" text-anchor="start" fill="#5a2f24" stroke="#5a2f24" stroke-width="0.3">1</text><text x="564.20" y="319.30" font-size="8.2" style="font-family:'Liberation Serif',serif;letter-spacing:0px" text-anchor="start" fill="#5a2f24" stroke="#5a2f24" stroke-width="0.3">2</text><path d="M516.00,334.40 L516.00,347.90" stroke="#0c0c0c" stroke-width="1.0" fill="none"/><path d="M576.50,334.40 L576.50,347.90" stroke="#0c0c0c" stroke-width="1.0" fill="none"/><path d="M516.00,336.30 L546.50,336.30" stroke="#0c0c0c" stroke-width="1.0" fill="none"/><path d="M516.00,336.30 L522.00,334.85 L522.00,337.75 Z" fill="#0c0c0c"/><path d="M546.50,336.30 L540.50,334.85 L540.50,337.75 Z" fill="#0c0c0c"/><text x="522.00" y="333.60" font-size="7.6" style="font-family:'Liberation Serif',serif;letter-spacing:0.1px" text-anchor="start" fill="#3a2c26" stroke="#3a2c26" stroke-width="0.3">0.95</text><g><text x="536.80" y="330.70" font-size="3.1" stroke="#333" stroke-width="0.35" style="font-family:'Liberation Sans',sans-serif;font-weight:bold" fill="#333">+0.1</text><text x="536.80" y="333.70" font-size="3.1" stroke="#333" stroke-width="0.35" style="font-family:'Liberation Sans',sans-serif;font-weight:bold" fill="#333">-0.1</text></g><path d="M516.00,346.80 L576.50,346.80" stroke="#0c0c0c" stroke-width="1.0" fill="none"/><path d="M516.00,346.80 L522.00,345.35 L522.00,348.25 Z" fill="#0c0c0c"/><path d="M576.50,346.80 L570.50,345.35 L570.50,348.25 Z" fill="#0c0c0c"/><text x="538.90" y="344.20" font-size="7.6" style="font-family:'Liberation Serif',serif;letter-spacing:0.5px" text-anchor="start" fill="#3a2c26" stroke="#3a2c26" stroke-width="0.3">1.9</text><g><text x="551.40" y="341.30" font-size="3.1" stroke="#333" stroke-width="0.35" style="font-family:'Liberation Sans',sans-serif;font-weight:bold" fill="#333">+0.1</text><text x="551.40" y="344.30" font-size="3.1" stroke="#333" stroke-width="0.35" style="font-family:'Liberation Sans',sans-serif;font-weight:bold" fill="#333">-0.1</text></g><path d="M502.4,362.7 H591 L592.8,381.7 L591.9,393.9 H501.5 L500.6,381.7 Z" stroke="#0c0c0c" stroke-width="1.1" fill="none"/><path d="M500.60,381.70 L592.80,381.70" stroke="#0c0c0c" stroke-width="1.1" fill="none"/><path d="M509.8,378.3 H522.5 V396.3 H509.8 Z" stroke="#0c0c0c" stroke-width="1.1" fill="none"/><path d="M516.40,366.30 L516.40,405.00" stroke="#0c0c0c" stroke-width="0.7" fill="none" stroke-dasharray="1.7 2.2 0.8 2.8"/><path d="M514.6,380.6 H518.1999999999999 M516.4,380.6 V383 M514.6,391.6 H518.1999999999999 M516.4,391.6 V389.2" stroke="#0c0c0c" stroke-width="0.6" fill="none"/><path d="M570.2,378.3 H582.9000000000001 V396.3 H570.2 Z" stroke="#0c0c0c" stroke-width="1.1" fill="none"/><path d="M576.50,366.30 L576.50,405.00" stroke="#0c0c0c" stroke-width="0.7" fill="none" stroke-dasharray="1.7 2.2 0.8 2.8"/><path d="M574.7,380.6 H578.3 M576.5,380.6 V383 M574.7,391.6 H578.3 M576.5,391.6 V389.2" stroke="#0c0c0c" stroke-width="0.6" fill="none"/><path d="M539.8,393.9 V396.6 H553 V393.9" stroke="#0c0c0c" stroke-width="1.1" fill="none"/><path d="M546.50,361.30 L546.50,407.00" stroke="#0c0c0c" stroke-width="0.7" fill="none" stroke-dasharray="1.7 2.2 0.8 2.8"/><path d="M592.30,363.20 L621.00,363.20" stroke="#0c0c0c" stroke-width="1.0" fill="none"/><path d="M592.30,394.00 L621.00,394.00" stroke="#0c0c0c" stroke-width="1.0" fill="none"/><path d="M619.70,361.60 L619.70,395.60" stroke="#0c0c0c" stroke-width="1.0" fill="none"/><path d="M619.70,363.20 L618.25,369.20 L621.15,369.20 Z" fill="#0c0c0c"/><path d="M619.70,394.00 L618.25,388.00 L621.15,388.00 Z" fill="#0c0c0c"/><text x="617.60" y="388.50" font-size="7.6" style="font-family:'Liberation Serif',serif;letter-spacing:0.3px" text-anchor="start" fill="#3a2c26" stroke="#3a2c26" stroke-width="0.3" transform="rotate(-90 617.60 388.50)">0.97</text><g transform="rotate(-90 617.60 372.20)"><text x="617.60" y="369.20" font-size="3.1" stroke="#333" stroke-width="0.35" style="font-family:'Liberation Sans',sans-serif;font-weight:bold" fill="#333">+0.1</text><text x="617.60" y="372.20" font-size="3.1" stroke="#333" stroke-width="0.35" style="font-family:'Liberation Sans',sans-serif;font-weight:bold" fill="#333">-0.1</text></g><path d="M594.00,381.60 L608.60,381.60" stroke="#0c0c0c" stroke-width="1.0" fill="none"/><path d="M607.20,369.00 L607.20,427.20" stroke="#0c0c0c" stroke-width="1.0" fill="none"/><path d="M607.20,381.60 L605.75,375.60 L608.65,375.60 Z" fill="#0c0c0c"/><path d="M607.20,394.00 L605.75,400.00 L608.65,400.00 Z" fill="#0c0c0c"/><text x="605.60" y="426.00" font-size="7.6" style="font-family:'Liberation Serif',serif;letter-spacing:0.1px" text-anchor="start" fill="#3a2c26" stroke="#3a2c26" stroke-width="0.3" transform="rotate(-90 605.60 426.00)">0.38</text><g transform="rotate(-90 605.60 411.00)"><text x="605.60" y="408.00" font-size="3.1" stroke="#333" stroke-width="0.35" style="font-family:'Liberation Sans',sans-serif;font-weight:bold" fill="#333">+0.1</text><text x="605.60" y="411.00" font-size="3.1" stroke="#333" stroke-width="0.35" style="font-family:'Liberation Sans',sans-serif;font-weight:bold" fill="#333">-0.1</text></g><path d="M584.00,396.20 L598.30,396.20" stroke="#0c0c0c" stroke-width="1.0" fill="none"/><path d="M595.80,381.60 L595.80,426.60" stroke="#0c0c0c" stroke-width="1.0" fill="none"/><path d="M595.80,393.60 L594.35,387.60 L597.25,387.60 Z" fill="#0c0c0c"/><path d="M595.80,396.40 L594.35,402.40 L597.25,402.40 Z" fill="#0c0c0c"/><text x="594.60" y="426.00" font-size="7.6" style="font-family:'Liberation Serif',serif;letter-spacing:0.1px" text-anchor="start" fill="#3a2c26" stroke="#3a2c26" stroke-width="0.3" transform="rotate(-90 594.60 426.00)">0-0.1</text><path d="M646.5,268.9 L658.5,268.2 L677.7,269.6 V307.3 L658.5,308.4 L646.5,307.7 Z" stroke="#0c0c0c" stroke-width="1.1" fill="none"/><path d="M658.50,268.20 L658.50,308.40" stroke="#0c0c0c" stroke-width="1.1" fill="none"/><path d="M644.7,250.2 V257.6 C644.7,263 650,263.6 654.5,265 C657.5,266 658.6,267 658.8,268.3" stroke="#0c0c0c" stroke-width="1.1" fill="none"/><path d="M648.8,250.2 V255.4 C648.8,259.4 652,259.8 656.5,261.4 C660,262.7 661.4,264.6 661.6,268.4" stroke="#0c0c0c" stroke-width="1.1" fill="none"/><path d="M644.70,250.20 L648.80,250.20" stroke="#0c0c0c" stroke-width="1.1" fill="none"/><path d="M644.7,326.2 V319.2 C644.7,313.8 650,313.2 654.5,311.8 C657.5,310.8 658.6,309.6 658.8,308.4" stroke="#0c0c0c" stroke-width="1.1" fill="none"/><path d="M648.8,326.2 V321.4 C648.8,317.4 652,317 656.5,315.4 C660,314.1 661.4,312.2 661.6,308.3" stroke="#0c0c0c" stroke-width="1.1" fill="none"/><path d="M644.70,326.20 L648.80,326.20" stroke="#0c0c0c" stroke-width="1.1" fill="none"/><path d="M641.90,288.30 L680.80,288.30" stroke="#0c0c0c" stroke-width="0.7" fill="none" stroke-dasharray="1.7 2.2 0.8 2.8"/><path d="M636.20,250.20 L646.70,250.20" stroke="#0c0c0c" stroke-width="1.0" fill="none"/><path d="M636.20,262.60 L646.00,262.60" stroke="#0c0c0c" stroke-width="1.0" fill="none"/><path d="M637.00,238.40 L637.00,275.20" stroke="#0c0c0c" stroke-width="1.0" fill="none"/><path d="M637.00,250.20 L635.55,244.20 L638.45,244.20 Z" fill="#0c0c0c"/><path d="M637.00,262.60 L635.55,268.60 L638.45,268.60 Z" fill="#0c0c0c"/><text x="636.00" y="261.40" font-size="7.6" style="font-family:'Liberation Serif',serif;letter-spacing:0.5px" text-anchor="start" fill="#3a2c26" stroke="#3a2c26" stroke-width="0.3" transform="rotate(-90 636.00 261.40)">0.4</text><path d="M635.50,308.30 L646.60,308.30" stroke="#0c0c0c" stroke-width="1.0" fill="none"/><path d="M635.50,326.20 L646.00,326.20" stroke="#0c0c0c" stroke-width="1.0" fill="none"/><path d="M637.00,307.80 L637.00,326.40" stroke="#0c0c0c" stroke-width="1.0" fill="none"/><path d="M637.00,308.30 L635.55,314.30 L638.45,314.30 Z" fill="#0c0c0c"/><path d="M637.00,326.20 L635.55,320.20 L638.45,320.20 Z" fill="#0c0c0c"/><text x="632.20" y="324.40" font-size="7.6" style="font-family:'Liberation Serif',serif;letter-spacing:0.3px" text-anchor="start" fill="#3a2c26" stroke="#3a2c26" stroke-width="0.3" transform="rotate(-90 632.20 324.40)">0.55</text><path d="M644.90,327.60 L644.90,338.40" stroke="#0c0c0c" stroke-width="1.0" fill="none"/><path d="M648.50,327.60 L648.50,338.40" stroke="#0c0c0c" stroke-width="1.0" fill="none"/><path d="M632.80,337.10 L682.20,337.10" stroke="#0c0c0c" stroke-width="1.0" fill="none"/><path d="M644.90,337.10 L638.90,335.65 L638.90,338.55 Z" fill="#0c0c0c"/><path d="M648.50,337.10 L654.50,335.65 L654.50,338.55 Z" fill="#0c0c0c"/><text x="661.00" y="334.90" font-size="7.6" style="font-family:'Liberation Serif',serif;letter-spacing:0.5px" text-anchor="start" fill="#3a2c26" stroke="#3a2c26" stroke-width="0.3">0.1</text><g><text x="673.00" y="332.00" font-size="3.1" stroke="#333" stroke-width="0.35" style="font-family:'Liberation Sans',sans-serif;font-weight:bold" fill="#333">+0.1</text><text x="673.00" y="335.00" font-size="3.1" stroke="#333" stroke-width="0.35" style="font-family:'Liberation Sans',sans-serif;font-weight:bold" fill="#333">-0.1</text></g><text x="642.60" y="382.90" font-size="7.4" style="font-family:'Liberation Serif',serif;letter-spacing:0px" text-anchor="start" fill="#3a2c26" stroke="#3a2c26" stroke-width="0.3" textLength="20.8" lengthAdjust="spacing">1.Base</text><text x="643.00" y="398.80" font-size="7.4" style="font-family:'Liberation Serif',serif;letter-spacing:0px" text-anchor="start" fill="#3a2c26" stroke="#3a2c26" stroke-width="0.3" textLength="30.8" lengthAdjust="spacing">2.Emitter</text><text x="643.00" y="415.00" font-size="7.4" style="font-family:'Liberation Serif',serif;letter-spacing:0px" text-anchor="start" fill="#3a2c26" stroke="#3a2c26" stroke-width="0.3" textLength="37.7" lengthAdjust="spacing">3.collector</text></g>
<g transform="translate(0,1122.4)"><defs><clipPath id="cA1122"><rect x="100" y="69.7" width="70" height="18.7"/></clipPath><clipPath id="cB1122"><rect x="100" y="69.7" width="70" height="26"/></clipPath><clipPath id="cC1122"><rect x="100" y="30" width="80" height="33.7"/></clipPath></defs><path d="M166.40,71.3 A33.45,33.45 0 1 1 133.8,45.349999999999994" fill="none" stroke="#15479a" stroke-width="4.5" stroke-linecap="round"/><path clip-path="url(#cC1122)" d="M130.8,45.49 A33.45,33.45 0 0 1 165.10,67" fill="none" stroke="#15479a" stroke-width="4.5"/><path d="M103.64,97.9 A35.7,35.7 0 0 0 163.96,97.9 Z" fill="#15479a"/><g clip-path="url(#cA1122)"><path d="M105.2,69.7 H109.9 L123.2,88.4 H118.4 Z M118.4,69.7 H123.2 L109.9,88.4 H105.2 Z" fill="#15479a"/><path d="M138.3,69.7 H143.1 L129.9,88.4 H125.1 Z" fill="#38a53a"/></g><g clip-path="url(#cB1122)"><path d="M126.43,67.7 L140.9,87.5" stroke="#fff" stroke-width="6.4" fill="none"/><path d="M126.43,67.7 L140.9,87.5 L150.8,71.2 L158.2,87.5 L166.20,71.30" stroke="#15479a" stroke-width="3.9" fill="none" stroke-linejoin="round" stroke-linecap="round"/></g><path d="M117.8,105.7 H149.4" stroke="#fff" stroke-width="1.8"/><path d="M127.3,99.8 L139.8,105.7 L127.3,112.6 Z" fill="#fff"/><path d="M140.6,99.8 V112.6" stroke="#fff" stroke-width="1.8"/><text x="82.30 117.10 151.90" y="147.6" font-size="34.8" fill="#111" style="font-family:'Liberation Sans','Noto Sans CJK SC',sans-serif;font-weight:500">烜芯微</text></g>
<g><path d="M172.93,1353.30V1514.30M208.20,1353.30V1514.30M243.47,1353.30V1514.30M278.73,1353.30V1514.30M314.00,1353.30V1514.30M349.27,1353.30V1514.30M155.30,1502.80H366.90M155.30,1479.80H366.90M155.30,1456.80H366.90M155.30,1433.80H366.90M155.30,1410.80H366.90M155.30,1387.80H366.90M155.30,1364.80H366.90" stroke="#151515" stroke-width="1.0" stroke-dasharray="1.05 1.25" fill="none"/><path d="M190.57,1353.30V1514.30M225.83,1353.30V1514.30M261.10,1353.30V1514.30M296.37,1353.30V1514.30M331.63,1353.30V1514.30M155.30,1491.30H366.90M155.30,1468.30H366.90M155.30,1445.30H366.90M155.30,1422.30H366.90M155.30,1399.30H366.90M155.30,1376.30H366.90" stroke="#1a1a1a" stroke-width="1.05" fill="none"/><rect x="155.30" y="1353.30" width="211.60" height="161.00" fill="none" stroke="#111" stroke-width="1.25"/><rect x="244.10" y="1353.40" width="22.00" height="7.40" fill="#fff"/><rect x="253.60" y="1367.20" width="22.00" height="7.40" fill="#fff"/><rect x="263.50" y="1382.20" width="22.00" height="7.40" fill="#fff"/><rect x="271.80" y="1395.80" width="22.00" height="7.40" fill="#fff"/><rect x="279.70" y="1411.20" width="22.00" height="7.40" fill="#fff"/><rect x="288.20" y="1424.90" width="22.00" height="7.40" fill="#fff"/><rect x="297.40" y="1441.20" width="22.00" height="7.40" fill="#fff"/><rect x="315.00" y="1455.10" width="22.00" height="7.40" fill="#fff"/><rect x="323.50" y="1470.30" width="22.00" height="7.40" fill="#fff"/><rect x="331.80" y="1487.20" width="26.00" height="8.20" fill="#fff"/><rect x="327.70" y="1356.60" width="35.40" height="25.60" fill="#fff"/><path d="M155.30,1514.30 L155.45,1513.39 L155.76,1511.57 L156.19,1509.11 L156.71,1506.20 L157.31,1503.26 L158.00,1501.21 L158.75,1500.18 L159.57,1499.61 L160.46,1499.19 L161.41,1498.84 L162.41,1498.53 L163.47,1498.25 L164.59,1498.01 L165.76,1497.79 L166.98,1497.60 L168.25,1497.44 L169.57,1497.29 L170.94,1497.16 L172.35,1497.05 L173.81,1496.95 L175.31,1496.84 L176.86,1496.72 L178.45,1496.61 L180.08,1496.50 L181.75,1496.40 L185.59,1496.18 L189.44,1495.97 L193.28,1495.77 L197.12,1495.58 L200.97,1495.39 L204.81,1495.21 L208.65,1495.03 L212.50,1494.86 L216.34,1494.69 L220.18,1494.53 L224.03,1494.36 L227.87,1494.21 L231.71,1494.05 L235.55,1493.90 L239.40,1493.76 L243.24,1493.62 L247.08,1493.48 L250.93,1493.34 L254.77,1493.21 L258.61,1493.09 L262.46,1492.96 L266.30,1492.84 L270.14,1492.73 L273.99,1492.62 L277.83,1492.51 L281.67,1492.41 L285.52,1492.31 L289.36,1492.21 L293.20,1492.12 L297.05,1492.03 L300.89,1491.95 L304.73,1491.87 L308.57,1491.79 L312.42,1491.72 L316.26,1491.65 L320.10,1491.59 L323.95,1491.53 L327.79,1491.47 L331.63,1491.42" stroke="#0a0a0a" stroke-width="1.32" fill="none" stroke-linejoin="round"/><path d="M155.30,1514.30 L155.45,1513.36 L155.76,1511.48 L156.19,1508.94 L156.71,1505.88 L157.31,1502.42 L158.00,1498.65 L158.75,1494.76 L159.57,1491.12 L160.46,1488.17 L161.41,1486.17 L162.41,1484.96 L163.47,1484.21 L164.59,1483.69 L165.76,1483.30 L166.98,1482.98 L168.25,1482.72 L169.57,1482.49 L170.94,1482.29 L172.35,1482.12 L173.81,1481.96 L175.31,1481.81 L176.86,1481.64 L178.45,1481.48 L180.08,1481.32 L181.75,1481.18 L185.37,1480.89 L188.98,1480.63 L192.60,1480.38 L196.22,1480.14 L199.84,1479.91 L203.45,1479.69 L207.07,1479.47 L210.69,1479.26 L214.30,1479.05 L217.92,1478.85 L221.54,1478.65 L225.16,1478.46 L228.77,1478.27 L232.39,1478.08 L236.01,1477.90 L239.62,1477.73 L243.24,1477.56 L246.86,1477.39 L250.48,1477.23 L254.09,1477.08 L257.71,1476.92 L261.33,1476.78 L264.94,1476.63 L268.56,1476.49 L272.18,1476.36 L275.79,1476.23 L279.41,1476.11 L283.03,1475.99 L286.65,1475.87 L290.26,1475.76 L293.88,1475.66 L297.50,1475.55 L301.11,1475.46 L304.73,1475.36 L308.35,1475.28 L311.97,1475.19 L315.58,1475.11 L319.20,1475.04 L322.82,1474.97" stroke="#0a0a0a" stroke-width="1.32" fill="none" stroke-linejoin="round"/><path d="M155.30,1514.30 L155.45,1513.33 L155.76,1511.38 L156.19,1508.75 L156.71,1505.59 L157.31,1502.01 L158.00,1498.09 L158.75,1493.95 L159.57,1489.67 L160.46,1485.32 L161.41,1481.05 L162.41,1477.15 L163.47,1473.94 L164.59,1471.57 L165.76,1469.94 L166.98,1468.85 L168.25,1468.10 L169.57,1467.56 L170.94,1467.15 L172.35,1466.82 L173.81,1466.55 L175.31,1466.29 L176.86,1466.03 L178.45,1465.80 L180.08,1465.58 L181.75,1465.37 L185.16,1464.98 L188.58,1464.64 L191.99,1464.32 L195.40,1464.03 L198.82,1463.74 L202.23,1463.48 L205.65,1463.22 L209.06,1462.97 L212.47,1462.73 L215.89,1462.49 L219.30,1462.27 L222.71,1462.05 L226.13,1461.84 L229.54,1461.64 L232.95,1461.45 L236.37,1461.26 L239.78,1461.08 L243.20,1460.91 L246.61,1460.75 L250.02,1460.60 L253.44,1460.45 L256.85,1460.31 L260.26,1460.18 L263.68,1460.05 L267.09,1459.94 L270.50,1459.83 L273.92,1459.72 L277.33,1459.63 L280.75,1459.54 L284.16,1459.46 L287.57,1459.39 L290.99,1459.33 L294.40,1459.27 L297.81,1459.23 L301.23,1459.19 L304.64,1459.15 L308.05,1459.13 L311.47,1459.11 L314.88,1459.10" stroke="#0a0a0a" stroke-width="1.32" fill="none" stroke-linejoin="round"/><path d="M155.30,1514.30 L155.45,1513.30 L155.76,1511.29 L156.19,1508.59 L156.71,1505.34 L157.31,1501.66 L158.00,1497.65 L158.75,1493.40 L159.57,1489.00 L160.46,1484.45 L161.41,1479.83 L162.41,1475.24 L163.47,1470.84 L164.59,1466.84 L165.76,1463.41 L166.98,1460.67 L168.25,1458.62 L169.57,1457.14 L170.94,1456.08 L172.35,1455.29 L173.81,1454.69 L175.31,1454.18 L176.86,1453.69 L178.45,1453.26 L180.08,1452.87 L181.75,1452.51 L184.69,1451.93 L187.63,1451.42 L190.57,1450.95 L193.51,1450.51 L196.44,1450.09 L199.38,1449.70 L202.32,1449.33 L205.26,1448.98 L208.20,1448.64 L211.14,1448.32 L214.08,1448.01 L217.02,1447.71 L219.96,1447.43 L222.89,1447.17 L225.83,1446.91 L228.77,1446.67 L231.71,1446.45 L234.65,1446.23 L237.59,1446.03 L240.53,1445.85 L243.47,1445.67 L246.41,1445.51 L249.34,1445.37 L252.28,1445.24 L255.22,1445.12 L258.16,1445.01 L261.10,1444.92 L264.04,1444.84 L266.98,1444.77 L269.92,1444.72 L272.86,1444.68 L275.79,1444.65 L278.73,1444.64 L281.67,1444.64 L284.61,1444.65 L287.55,1444.68 L290.49,1444.72 L293.43,1444.77 L296.37,1444.84" stroke="#0a0a0a" stroke-width="1.32" fill="none" stroke-linejoin="round"/><path d="M155.30,1514.30 L155.45,1513.27 L155.76,1511.20 L156.19,1508.42 L156.71,1505.08 L157.31,1501.30 L158.00,1497.18 L158.75,1492.82 L159.57,1488.32 L160.46,1483.65 L161.41,1478.87 L162.41,1474.06 L163.47,1469.28 L164.59,1464.60 L165.76,1460.06 L166.98,1455.78 L168.25,1451.90 L169.57,1448.53 L170.94,1445.75 L172.35,1443.57 L173.81,1441.93 L175.31,1440.70 L176.86,1439.74 L178.45,1439.00 L180.08,1438.41 L181.75,1437.91 L184.46,1437.26 L187.18,1436.72 L189.89,1436.26 L192.60,1435.86 L195.31,1435.49 L198.03,1435.15 L200.74,1434.83 L203.45,1434.53 L206.17,1434.24 L208.88,1433.96 L211.59,1433.69 L214.30,1433.44 L217.02,1433.18 L219.73,1432.94 L222.44,1432.71 L225.16,1432.48 L227.87,1432.26 L230.58,1432.05 L233.29,1431.84 L236.01,1431.64 L238.72,1431.45 L241.43,1431.27 L244.15,1431.09 L246.86,1430.92 L249.57,1430.76 L252.28,1430.60 L255.00,1430.45 L257.71,1430.31 L260.42,1430.17 L263.14,1430.05 L265.85,1429.92 L268.56,1429.81 L271.27,1429.70 L273.99,1429.60 L276.70,1429.51 L279.41,1429.42 L282.12,1429.34 L284.84,1429.27 L287.55,1429.20" stroke="#0a0a0a" stroke-width="1.32" fill="none" stroke-linejoin="round"/><path d="M155.30,1514.30 L155.45,1513.23 L155.76,1511.08 L156.19,1508.19 L156.71,1504.73 L157.31,1500.81 L158.00,1496.55 L158.75,1492.06 L159.57,1487.41 L160.46,1482.60 L161.41,1477.69 L162.41,1472.74 L163.47,1467.81 L164.59,1462.92 L165.76,1458.10 L166.98,1453.36 L168.25,1448.78 L169.57,1444.43 L170.94,1440.38 L172.35,1436.77 L173.81,1433.69 L175.31,1431.17 L176.86,1429.14 L178.45,1427.55 L180.08,1426.28 L181.75,1425.25 L184.24,1424.06 L186.72,1423.12 L189.21,1422.37 L191.70,1421.75 L194.18,1421.22 L196.67,1420.75 L199.16,1420.32 L201.64,1419.91 L204.13,1419.53 L206.62,1419.17 L209.10,1418.83 L211.59,1418.50 L214.08,1418.17 L216.56,1417.86 L219.05,1417.56 L221.54,1417.27 L224.03,1416.99 L226.51,1416.72 L229.00,1416.45 L231.49,1416.20 L233.97,1415.95 L236.46,1415.71 L238.95,1415.48 L241.43,1415.26 L243.92,1415.04 L246.41,1414.83 L248.89,1414.64 L251.38,1414.45 L253.87,1414.26 L256.35,1414.09 L258.84,1413.92 L261.33,1413.76 L263.81,1413.61 L266.30,1413.47 L268.79,1413.33 L271.27,1413.20 L273.76,1413.09 L276.25,1412.97 L278.73,1412.87" stroke="#0a0a0a" stroke-width="1.32" fill="none" stroke-linejoin="round"/><path d="M155.30,1514.30 L155.45,1513.17 L155.76,1510.89 L156.19,1507.84 L156.71,1504.19 L157.31,1500.06 L158.00,1495.60 L158.75,1490.91 L159.57,1486.04 L160.46,1481.02 L161.41,1475.90 L162.41,1470.77 L163.47,1465.67 L164.59,1460.60 L165.76,1455.56 L166.98,1450.59 L168.25,1445.68 L169.57,1440.87 L170.94,1436.20 L172.35,1431.77 L173.81,1427.70 L175.31,1424.06 L176.86,1420.92 L178.45,1418.25 L180.08,1415.98 L181.75,1414.07 L184.03,1411.95 L186.32,1410.32 L188.60,1409.08 L190.88,1408.12 L193.17,1407.36 L195.45,1406.73 L197.73,1406.19 L200.02,1405.71 L202.30,1405.28 L204.58,1404.88 L206.87,1404.51 L209.15,1404.16 L211.43,1403.83 L213.72,1403.51 L216.00,1403.22 L218.28,1402.93 L220.57,1402.66 L222.85,1402.40 L225.13,1402.16 L227.42,1401.92 L229.70,1401.70 L231.98,1401.49 L234.27,1401.29 L236.55,1401.10 L238.83,1400.92 L241.12,1400.75 L243.40,1400.59 L245.68,1400.45 L247.97,1400.31 L250.25,1400.18 L252.53,1400.07 L254.82,1399.97 L257.10,1399.87 L259.38,1399.79 L261.67,1399.72 L263.95,1399.65 L266.23,1399.60 L268.52,1399.56 L270.80,1399.53" stroke="#0a0a0a" stroke-width="1.32" fill="none" stroke-linejoin="round"/><path d="M155.30,1514.30 L155.45,1513.10 L155.76,1510.68 L156.19,1507.45 L156.71,1503.58 L157.31,1499.23 L158.00,1494.53 L158.75,1489.62 L159.57,1484.51 L160.46,1479.26 L161.41,1473.94 L162.41,1468.62 L163.47,1463.33 L164.59,1458.07 L165.76,1452.85 L166.98,1447.68 L168.25,1442.55 L169.57,1437.46 L170.94,1432.47 L172.35,1427.65 L173.81,1423.08 L175.31,1418.84 L176.86,1414.94 L178.45,1411.36 L180.08,1408.07 L181.75,1405.03 L183.79,1401.78 L185.84,1399.12 L187.88,1397.02 L189.92,1395.40 L191.97,1394.13 L194.01,1393.11 L196.06,1392.28 L198.10,1391.57 L200.14,1390.94 L202.19,1390.38 L204.23,1389.87 L206.27,1389.40 L208.32,1388.96 L210.36,1388.54 L212.41,1388.15 L214.45,1387.78 L216.49,1387.42 L218.54,1387.09 L220.58,1386.76 L222.62,1386.46 L224.67,1386.16 L226.71,1385.88 L228.75,1385.62 L230.80,1385.36 L232.84,1385.12 L234.89,1384.89 L236.93,1384.67 L238.97,1384.47 L241.02,1384.27 L243.06,1384.09 L245.10,1383.92 L247.15,1383.76 L249.19,1383.61 L251.23,1383.48 L253.28,1383.35 L255.32,1383.24 L257.37,1383.14 L259.41,1383.05 L261.45,1382.97" stroke="#0a0a0a" stroke-width="1.32" fill="none" stroke-linejoin="round"/><path d="M155.30,1514.30 L155.45,1513.03 L155.76,1510.47 L156.19,1507.04 L156.71,1502.95 L157.31,1498.37 L158.00,1493.44 L158.75,1488.29 L159.57,1482.94 L160.46,1477.46 L161.41,1471.93 L162.41,1466.42 L163.47,1460.94 L164.59,1455.50 L165.76,1450.10 L166.98,1444.74 L168.25,1439.41 L169.57,1434.13 L170.94,1428.95 L172.35,1423.93 L173.81,1419.14 L175.31,1414.63 L176.86,1410.33 L178.45,1406.18 L180.08,1402.12 L181.75,1398.16 L183.57,1394.25 L185.39,1390.88 L187.20,1388.09 L189.02,1385.86 L190.84,1384.09 L192.66,1382.69 L194.47,1381.57 L196.29,1380.64 L198.11,1379.85 L199.93,1379.17 L201.74,1378.56 L203.56,1378.01 L205.38,1377.51 L207.20,1377.05 L209.01,1376.61 L210.83,1376.20 L212.65,1375.80 L214.47,1375.43 L216.28,1375.07 L218.10,1374.72 L219.92,1374.39 L221.74,1374.06 L223.55,1373.75 L225.37,1373.45 L227.19,1373.15 L229.01,1372.87 L230.83,1372.59 L232.64,1372.32 L234.46,1372.06 L236.28,1371.81 L238.10,1371.56 L239.91,1371.33 L241.73,1371.10 L243.55,1370.87 L245.37,1370.66 L247.18,1370.45 L249.00,1370.25 L250.82,1370.05 L252.64,1369.87" stroke="#0a0a0a" stroke-width="1.32" fill="none" stroke-linejoin="round"/><path d="M155.30,1514.30 L155.45,1512.94 L155.76,1510.22 L156.19,1506.58 L156.71,1502.25 L157.31,1497.40 L158.00,1492.22 L158.75,1486.81 L159.57,1481.19 L160.46,1475.46 L161.41,1469.71 L162.41,1464.00 L163.47,1458.32 L164.59,1452.68 L165.76,1447.08 L166.98,1441.52 L168.25,1435.99 L169.57,1430.53 L170.94,1425.21 L172.35,1420.10 L173.81,1415.24 L175.31,1410.57 L176.86,1405.99 L178.45,1401.39 L180.08,1396.73 L181.75,1392.14 L183.33,1388.12 L184.92,1384.51 L186.50,1381.35 L188.08,1378.66 L189.66,1376.41 L191.25,1374.54 L192.83,1372.95 L194.41,1371.60 L195.99,1370.43 L197.57,1369.41 L199.16,1368.50 L200.74,1367.68 L202.32,1366.93 L203.90,1366.25 L205.49,1365.62 L207.07,1365.03 L208.65,1364.47 L210.23,1363.95 L211.82,1363.46 L213.40,1362.99 L214.98,1362.55 L216.56,1362.13 L218.15,1361.73 L219.73,1361.34 L221.31,1360.98 L222.89,1360.63 L224.48,1360.30 L226.06,1359.98 L227.64,1359.68 L229.22,1359.39 L230.81,1359.12 L232.39,1358.86 L233.97,1358.62 L235.55,1358.39 L237.14,1358.18 L238.72,1357.98 L240.30,1357.79 L241.88,1357.62 L243.47,1357.46" stroke="#0a0a0a" stroke-width="1.32" fill="none" stroke-linejoin="round"/><text x="244.40" y="1359.40" font-size="7.2" text-anchor="start" fill="#0a0a0a" style="" textLength="21.20" lengthAdjust="spacingAndGlyphs" stroke="#0a0a0a" stroke-width="0.26">-500uA</text><text x="253.90" y="1373.20" font-size="7.2" text-anchor="start" fill="#0a0a0a" style="" textLength="21.20" lengthAdjust="spacingAndGlyphs" stroke="#0a0a0a" stroke-width="0.26">-450uA</text><text x="263.80" y="1388.20" font-size="7.2" text-anchor="start" fill="#0a0a0a" style="" textLength="21.20" lengthAdjust="spacingAndGlyphs" stroke="#0a0a0a" stroke-width="0.26">-400uA</text><text x="272.10" y="1401.80" font-size="7.2" text-anchor="start" fill="#0a0a0a" style="" textLength="21.20" lengthAdjust="spacingAndGlyphs" stroke="#0a0a0a" stroke-width="0.26">-350uA</text><text x="280.00" y="1417.20" font-size="7.2" text-anchor="start" fill="#0a0a0a" style="" textLength="21.20" lengthAdjust="spacingAndGlyphs" stroke="#0a0a0a" stroke-width="0.26">-300uA</text><text x="288.50" y="1430.90" font-size="7.2" text-anchor="start" fill="#0a0a0a" style="" textLength="21.20" lengthAdjust="spacingAndGlyphs" stroke="#0a0a0a" stroke-width="0.26">-250uA</text><text x="297.70" y="1447.20" font-size="7.2" text-anchor="start" fill="#0a0a0a" style="" textLength="21.20" lengthAdjust="spacingAndGlyphs" stroke="#0a0a0a" stroke-width="0.26">-200uA</text><text x="315.30" y="1461.10" font-size="7.2" text-anchor="start" fill="#0a0a0a" style="" textLength="21.20" lengthAdjust="spacingAndGlyphs" stroke="#0a0a0a" stroke-width="0.26">-150uA</text><text x="323.80" y="1476.30" font-size="7.2" text-anchor="start" fill="#0a0a0a" style="" textLength="21.20" lengthAdjust="spacingAndGlyphs" stroke="#0a0a0a" stroke-width="0.26">-100uA</text><text x="332.10" y="1494.00" font-size="7.2" text-anchor="start" fill="#0a0a0a" style="" textLength="25.20" lengthAdjust="spacingAndGlyphs" stroke="#0a0a0a" stroke-width="0.26">I<tspan dy="1.6" font-size="0.6em">B</tspan><tspan dy="-1.6" font-size="0.01em">.</tspan>=-50uA</text><text x="330.00" y="1364.20" font-size="7.2" text-anchor="start" fill="#0a0a0a" style="" textLength="30.90" lengthAdjust="spacingAndGlyphs" stroke="#0a0a0a" stroke-width="0.26">COMMON</text><text x="330.90" y="1372.10" font-size="7.2" text-anchor="start" fill="#0a0a0a" style="" textLength="30.00" lengthAdjust="spacingAndGlyphs" stroke="#0a0a0a" stroke-width="0.26">EMITTER</text><text x="330.00" y="1380.30" font-size="7.2" text-anchor="start" fill="#0a0a0a" style="" textLength="22.40" lengthAdjust="spacingAndGlyphs" stroke="#0a0a0a" stroke-width="0.26">T<tspan dy="1.6" font-size="0.6em">a</tspan><tspan dy="-1.6" font-size="0.01em">.</tspan>=25<tspan style="font-family:'Liberation Serif',serif" dx="0.4">°</tspan><tspan style="font-family:'Liberation Serif',serif" dx="-1.1">C</tspan></text><text x="152.20" y="1516.25" font-size="5.6" text-anchor="end" fill="#0a0a0a" style="letter-spacing:-0.1px;font-weight:bold;" stroke="#0a0a0a" stroke-width="0.12">0</text><text x="152.20" y="1493.25" font-size="5.6" text-anchor="end" fill="#0a0a0a" style="letter-spacing:-0.1px;font-weight:bold;" stroke="#0a0a0a" stroke-width="0.12">10</text><text x="152.20" y="1470.25" font-size="5.6" text-anchor="end" fill="#0a0a0a" style="letter-spacing:-0.1px;font-weight:bold;" stroke="#0a0a0a" stroke-width="0.12">20</text><text x="152.20" y="1447.25" font-size="5.6" text-anchor="end" fill="#0a0a0a" style="letter-spacing:-0.1px;font-weight:bold;" stroke="#0a0a0a" stroke-width="0.12">30</text><text x="152.20" y="1424.25" font-size="5.6" text-anchor="end" fill="#0a0a0a" style="letter-spacing:-0.1px;font-weight:bold;" stroke="#0a0a0a" stroke-width="0.12">40</text><text x="152.20" y="1401.25" font-size="5.6" text-anchor="end" fill="#0a0a0a" style="letter-spacing:-0.1px;font-weight:bold;" stroke="#0a0a0a" stroke-width="0.12">50</text><text x="152.20" y="1378.25" font-size="5.6" text-anchor="end" fill="#0a0a0a" style="letter-spacing:-0.1px;font-weight:bold;" stroke="#0a0a0a" stroke-width="0.12">60</text><text x="152.20" y="1355.25" font-size="5.6" text-anchor="end" fill="#0a0a0a" style="letter-spacing:-0.1px;font-weight:bold;" stroke="#0a0a0a" stroke-width="0.12">70</text><text x="154.30" y="1521.90" font-size="5.6" text-anchor="middle" fill="#0a0a0a" style="letter-spacing:-0.1px;font-weight:bold;" stroke="#0a0a0a" stroke-width="0.12">0</text><text x="189.57" y="1521.90" font-size="5.6" text-anchor="middle" fill="#0a0a0a" style="letter-spacing:-0.1px;font-weight:bold;" stroke="#0a0a0a" stroke-width="0.12">4</text><text x="224.83" y="1521.90" font-size="5.6" text-anchor="middle" fill="#0a0a0a" style="letter-spacing:-0.1px;font-weight:bold;" stroke="#0a0a0a" stroke-width="0.12">8</text><text x="260.10" y="1521.90" font-size="5.6" text-anchor="middle" fill="#0a0a0a" style="letter-spacing:-0.1px;font-weight:bold;" stroke="#0a0a0a" stroke-width="0.12">12</text><text x="295.37" y="1521.90" font-size="5.6" text-anchor="middle" fill="#0a0a0a" style="letter-spacing:-0.1px;font-weight:bold;" stroke="#0a0a0a" stroke-width="0.12">16</text><text x="330.63" y="1521.90" font-size="5.6" text-anchor="middle" fill="#0a0a0a" style="letter-spacing:-0.1px;font-weight:bold;" stroke="#0a0a0a" stroke-width="0.12">20</text><text x="365.90" y="1521.90" font-size="5.6" text-anchor="middle" fill="#0a0a0a" style="letter-spacing:-0.1px;font-weight:bold;" stroke="#0a0a0a" stroke-width="0.12">24</text><text x="191.20" y="1532.10" font-size="6.9" text-anchor="start" fill="#0a0a0a" style="" textLength="105.30" lengthAdjust="spacingAndGlyphs" stroke="#0a0a0a" stroke-width="0.26">COLLECTOR-EMITTER VOLTAGE</text><text x="305.00" y="1532.10" font-size="6.9" text-anchor="start" fill="#0a0a0a" style="" stroke="#0a0a0a" stroke-width="0.26">V<tspan dy="1.7" font-size="0.62em">CE</tspan><tspan dy="-1.7" font-size="0.01em">.</tspan></text><text x="320.30" y="1532.10" font-size="6.9" text-anchor="start" fill="#0a0a0a" style="letter-spacing:-0.2px;" stroke="#0a0a0a" stroke-width="0.26">(V)</text><text x="136.20" y="1488.00" font-size="6.9" text-anchor="start" fill="#0a0a0a" style="" transform="rotate(-90 136.20 1488.00)" textLength="74.80" lengthAdjust="spacingAndGlyphs" stroke="#0a0a0a" stroke-width="0.26">COLLECTOR CURRENT</text><text x="136.20" y="1406.60" font-size="7.300000000000001" text-anchor="start" fill="#0a0a0a" style="font-weight:bold;" transform="rotate(-90 136.20 1406.60)" stroke="#0a0a0a" stroke-width="0.26">I<tspan dy="1.8" font-size="0.62em">C</tspan><tspan dy="-1.8" font-size="0.01em">.</tspan></text><text x="136.20" y="1393.40" font-size="6.9" text-anchor="start" fill="#0a0a0a" style="letter-spacing:-0.2px;" transform="rotate(-90 136.20 1393.40)" stroke="#0a0a0a" stroke-width="0.26">(mA)</text><text x="233.70" y="1347.70" font-size="8.2" text-anchor="start" fill="#0a0a0a" style="font-weight:bold;">I</text><text x="236.40" y="1351.00" font-size="4.6" text-anchor="start" fill="#0a0a0a" style="letter-spacing:-0.1px;font-weight:bold;" stroke="#0a0a0a" stroke-width="0.1">C</text><path d="M248.70,1345.80H265.10" stroke="#111" stroke-width="1.3"/><text x="278.00" y="1347.50" font-size="8.2" text-anchor="start" fill="#0a0a0a" style="font-weight:bold;">V</text><text x="283.60" y="1350.60" font-size="4.6" text-anchor="start" fill="#0a0a0a" style="letter-spacing:-0.1px;font-weight:bold;" stroke="#0a0a0a" stroke-width="0.1">CE</text></g>
<g><path d="M450.02,1353.50V1514.40M460.74,1353.50V1514.40M468.35,1353.50V1514.40M474.25,1353.50V1514.40M479.07,1353.50V1514.40M483.14,1353.50V1514.40M486.67,1353.50V1514.40M489.78,1353.50V1514.40M510.89,1353.50V1514.40M521.61,1353.50V1514.40M529.22,1353.50V1514.40M535.12,1353.50V1514.40M539.94,1353.50V1514.40M544.01,1353.50V1514.40M547.54,1353.50V1514.40M550.65,1353.50V1514.40M571.76,1353.50V1514.40M582.48,1353.50V1514.40M590.09,1353.50V1514.40M595.99,1353.50V1514.40M600.81,1353.50V1514.40M604.88,1353.50V1514.40M608.41,1353.50V1514.40M611.52,1353.50V1514.40M632.63,1353.50V1514.40M643.35,1353.50V1514.40M431.70,1490.33H644.60M431.70,1476.17H644.60M431.70,1466.11H644.60M431.70,1458.32H644.60M431.70,1451.95H644.60M431.70,1446.56H644.60M431.70,1441.90H644.60M431.70,1437.78H644.60M431.70,1409.88H644.60M431.70,1395.72H644.60M431.70,1385.66H644.60M431.70,1377.87H644.60M431.70,1371.50H644.60M431.70,1366.11H644.60M431.70,1361.45H644.60M431.70,1357.33H644.60" stroke="#151515" stroke-width="1.0" stroke-dasharray="1.05 1.25" fill="none"/><path d="M492.57,1353.50V1514.40M553.44,1353.50V1514.40M614.31,1353.50V1514.40M431.70,1434.10H644.60" stroke="#1a1a1a" stroke-width="1.05" fill="none"/><rect x="431.70" y="1353.50" width="212.90" height="160.90" fill="none" stroke="#111" stroke-width="1.25"/><rect x="493.00" y="1397.00" width="27.50" height="8.60" fill="#fff"/><rect x="494.60" y="1421.70" width="25.00" height="8.40" fill="#fff"/><rect x="565.30" y="1491.60" width="78.40" height="20.60" fill="#fff"/><path d="M431.70,1408.80 L432.85,1408.87 L434.00,1408.94 L435.15,1409.01 L436.30,1409.07 L437.45,1409.14 L438.59,1409.20 L439.74,1409.27 L440.89,1409.33 L442.04,1409.39 L443.19,1409.46 L444.34,1409.52 L445.49,1409.57 L446.64,1409.63 L447.79,1409.69 L448.94,1409.74 L450.08,1409.79 L451.23,1409.84 L452.38,1409.89 L453.53,1409.94 L454.68,1409.99 L455.83,1410.03 L456.98,1410.07 L458.13,1410.12 L459.28,1410.15 L460.43,1410.19 L461.58,1410.23 L462.72,1410.26 L463.87,1410.30 L465.02,1410.33 L466.17,1410.37 L467.32,1410.40 L468.47,1410.44 L469.62,1410.47 L470.77,1410.51 L471.92,1410.54 L473.07,1410.57 L474.22,1410.61 L475.36,1410.64 L476.51,1410.67 L477.66,1410.70 L478.81,1410.72 L479.96,1410.75 L481.11,1410.77 L482.26,1410.80 L483.41,1410.82 L484.56,1410.84 L485.71,1410.85 L486.85,1410.87 L488.00,1410.88 L489.15,1410.89 L490.30,1410.89 L491.45,1410.90 L492.60,1410.90 L493.75,1410.90 L494.90,1410.90 L496.05,1410.90 L497.20,1410.90 L498.35,1410.90 L499.49,1410.90 L500.64,1410.90 L501.79,1410.89 L502.94,1410.89 L504.09,1410.89 L505.24,1410.89 L506.39,1410.89 L507.54,1410.88 L508.69,1410.88 L509.84,1410.88 L510.98,1410.88 L512.13,1410.88 L513.28,1410.87 L514.43,1410.87 L515.58,1410.87 L516.73,1410.87 L517.88,1410.86 L519.03,1410.86 L520.18,1410.86 L521.33,1410.85 L522.48,1410.85 L523.62,1410.85 L524.77,1410.85 L525.92,1410.84 L527.07,1410.84 L528.22,1410.84 L529.37,1410.83 L530.52,1410.83 L531.67,1410.83 L532.82,1410.83 L533.97,1410.82 L535.12,1410.82 L536.26,1410.82 L537.41,1410.82 L538.56,1410.82 L539.71,1410.81 L540.86,1410.81 L542.01,1410.81 L543.16,1410.81 L544.31,1410.81 L545.46,1410.80 L546.61,1410.80 L547.75,1410.80 L548.90,1410.80 L550.05,1410.80 L551.20,1410.80 L552.35,1410.80 L553.50,1410.80 L554.65,1410.80 L555.80,1410.80 L556.95,1410.81 L558.10,1410.82 L559.25,1410.83 L560.39,1410.84 L561.54,1410.85 L562.69,1410.87 L563.84,1410.89 L564.99,1410.91 L566.14,1410.93 L567.29,1410.95 L568.44,1410.98 L569.59,1411.00 L570.74,1411.03 L571.88,1411.06 L573.03,1411.09 L574.18,1411.12 L575.33,1411.16 L576.48,1411.19 L577.63,1411.23 L578.78,1411.27 L579.93,1411.31 L581.08,1411.35 L582.23,1411.39 L583.38,1411.44 L584.52,1411.49 L585.67,1411.55 L586.82,1411.62 L587.97,1411.70 L589.12,1411.79 L590.27,1411.90 L591.42,1412.03 L592.57,1412.17 L593.72,1412.32 L594.87,1412.50 L596.02,1412.70 L597.16,1412.91 L598.31,1413.29 L599.46,1413.89 L600.61,1414.68 L601.76,1415.60 L602.91,1416.77 L604.06,1418.42 L605.21,1420.33 L606.36,1422.27 L607.51,1424.27 L608.65,1426.43 L609.80,1428.81 L610.95,1431.48 L612.10,1434.64 L613.25,1438.46 L614.40,1442.70" stroke="#0a0a0a" stroke-width="1.45" fill="none" stroke-linejoin="round"/><path d="M431.70,1417.30 L432.92,1417.36 L434.14,1417.41 L435.35,1417.47 L436.57,1417.52 L437.79,1417.58 L439.01,1417.63 L440.22,1417.68 L441.44,1417.74 L442.66,1417.79 L443.88,1417.84 L445.09,1417.88 L446.31,1417.93 L447.53,1417.98 L448.75,1418.02 L449.96,1418.07 L451.18,1418.11 L452.40,1418.15 L453.62,1418.19 L454.83,1418.23 L456.05,1418.27 L457.27,1418.31 L458.49,1418.34 L459.71,1418.37 L460.92,1418.40 L462.14,1418.44 L463.36,1418.47 L464.58,1418.50 L465.79,1418.53 L467.01,1418.56 L468.23,1418.59 L469.45,1418.62 L470.66,1418.64 L471.88,1418.67 L473.10,1418.70 L474.32,1418.73 L475.53,1418.75 L476.75,1418.78 L477.97,1418.80 L479.19,1418.83 L480.40,1418.85 L481.62,1418.87 L482.84,1418.89 L484.06,1418.91 L485.27,1418.93 L486.49,1418.94 L487.71,1418.96 L488.93,1418.97 L490.15,1418.98 L491.36,1418.99 L492.58,1419.00 L493.80,1419.01 L495.02,1419.01 L496.23,1419.02 L497.45,1419.03 L498.67,1419.03 L499.89,1419.04 L501.10,1419.04 L502.32,1419.05 L503.54,1419.05 L504.76,1419.06 L505.97,1419.06 L507.19,1419.06 L508.41,1419.07 L509.63,1419.07 L510.84,1419.07 L512.06,1419.08 L513.28,1419.08 L514.50,1419.08 L515.72,1419.08 L516.93,1419.09 L518.15,1419.09 L519.37,1419.09 L520.59,1419.09 L521.80,1419.10 L523.02,1419.10 L524.24,1419.10 L525.46,1419.10 L526.67,1419.10 L527.89,1419.11 L529.11,1419.11 L530.33,1419.11 L531.54,1419.11 L532.76,1419.12 L533.98,1419.12 L535.20,1419.12 L536.41,1419.13 L537.63,1419.13 L538.85,1419.13 L540.07,1419.14 L541.28,1419.14 L542.50,1419.15 L543.72,1419.15 L544.94,1419.16 L546.16,1419.16 L547.37,1419.17 L548.59,1419.17 L549.81,1419.18 L551.03,1419.19 L552.24,1419.19 L553.46,1419.20 L554.68,1419.21 L555.90,1419.22 L557.11,1419.23 L558.33,1419.25 L559.55,1419.27 L560.77,1419.29 L561.98,1419.31 L563.20,1419.33 L564.42,1419.36 L565.64,1419.38 L566.85,1419.41 L568.07,1419.44 L569.29,1419.47 L570.51,1419.51 L571.73,1419.54 L572.94,1419.58 L574.16,1419.62 L575.38,1419.65 L576.60,1419.69 L577.81,1419.73 L579.03,1419.78 L580.25,1419.82 L581.47,1419.86 L582.68,1419.91 L583.90,1419.95 L585.12,1420.00 L586.34,1420.05 L587.55,1420.11 L588.77,1420.17 L589.99,1420.23 L591.21,1420.30 L592.42,1420.38 L593.64,1420.46 L594.86,1420.55 L596.08,1420.65 L597.29,1420.76 L598.51,1420.87 L599.73,1421.00 L600.95,1421.14 L602.17,1421.35 L603.38,1421.62 L604.60,1421.95 L605.82,1422.33 L607.04,1422.74 L608.25,1423.18 L609.47,1423.63 L610.69,1424.10 L611.91,1424.65 L613.12,1425.34 L614.34,1426.30 L615.56,1427.73 L616.78,1429.75 L617.99,1433.33 L619.21,1437.95 L620.43,1442.44 L621.65,1446.89 L622.86,1451.50 L624.08,1456.26 L625.30,1461.20" stroke="#0a0a0a" stroke-width="1.45" fill="none" stroke-linejoin="round"/><text x="493.50" y="1403.90" font-size="7.2" text-anchor="start" fill="#0a0a0a" style="" textLength="26.00" lengthAdjust="spacingAndGlyphs" stroke="#0a0a0a" stroke-width="0.26">T<tspan dy="1.6" font-size="0.6em">a</tspan><tspan dy="-1.6" font-size="0.01em">.</tspan>=100<tspan style="font-family:'Liberation Serif',serif" dx="0.4">°</tspan><tspan style="font-family:'Liberation Serif',serif" dx="-1.1">C</tspan></text><text x="495.30" y="1428.60" font-size="7.2" text-anchor="start" fill="#0a0a0a" style="" textLength="23.30" lengthAdjust="spacingAndGlyphs" stroke="#0a0a0a" stroke-width="0.26">T<tspan dy="1.6" font-size="0.6em">a</tspan><tspan dy="-1.6" font-size="0.01em">.</tspan>=25<tspan style="font-family:'Liberation Serif',serif" dx="0.4">°</tspan><tspan style="font-family:'Liberation Serif',serif" dx="-1.1">C</tspan></text><text x="572.00" y="1497.80" font-size="7.2" text-anchor="start" fill="#0a0a0a" style="" textLength="60.40" lengthAdjust="spacingAndGlyphs" stroke="#0a0a0a" stroke-width="0.26">COMMON EMITTER</text><text x="572.00" y="1505.90" font-size="7.2" text-anchor="start" fill="#0a0a0a" style="" textLength="28.60" lengthAdjust="spacingAndGlyphs" stroke="#0a0a0a" stroke-width="0.26">V<tspan dy="1.6" font-size="0.6em">CE</tspan><tspan dy="-1.6" font-size="0.01em">.</tspan>= - 10V</text><text x="428.40" y="1355.45" font-size="5.6" text-anchor="end" fill="#0a0a0a" style="letter-spacing:-0.1px;font-weight:bold;" stroke="#0a0a0a" stroke-width="0.12">1000</text><text x="428.40" y="1436.05" font-size="5.6" text-anchor="end" fill="#0a0a0a" style="letter-spacing:-0.1px;font-weight:bold;" stroke="#0a0a0a" stroke-width="0.12">100</text><text x="428.40" y="1516.35" font-size="5.6" text-anchor="end" fill="#0a0a0a" style="letter-spacing:-0.1px;font-weight:bold;" stroke="#0a0a0a" stroke-width="0.12">10</text><text x="431.70" y="1521.80" font-size="5.6" text-anchor="middle" fill="#0a0a0a" style="letter-spacing:-0.1px;font-weight:bold;" stroke="#0a0a0a" stroke-width="0.12">-0.1</text><text x="492.57" y="1521.80" font-size="5.6" text-anchor="middle" fill="#0a0a0a" style="letter-spacing:-0.1px;font-weight:bold;" stroke="#0a0a0a" stroke-width="0.12">-1</text><text x="553.44" y="1521.80" font-size="5.6" text-anchor="middle" fill="#0a0a0a" style="letter-spacing:-0.1px;font-weight:bold;" stroke="#0a0a0a" stroke-width="0.12">-10</text><text x="613.30" y="1521.80" font-size="5.6" text-anchor="middle" fill="#0a0a0a" style="letter-spacing:-0.1px;font-weight:bold;" stroke="#0a0a0a" stroke-width="0.12">-100</text><text x="640.80" y="1521.80" font-size="5.6" text-anchor="middle" fill="#0a0a0a" style="letter-spacing:-0.1px;font-weight:bold;" stroke="#0a0a0a" stroke-width="0.12">-300</text><text x="486.90" y="1533.10" font-size="6.9" text-anchor="start" fill="#0a0a0a" style="" textLength="74.50" lengthAdjust="spacingAndGlyphs" stroke="#0a0a0a" stroke-width="0.26">COLLECTOR CURRENT</text><text x="569.50" y="1533.10" font-size="6.9" text-anchor="start" fill="#0a0a0a" style="font-weight:bold;" stroke="#0a0a0a" stroke-width="0.26">I<tspan dy="1.6" font-size="0.62em">C</tspan><tspan dy="-1.6" font-size="0.01em">.</tspan></text><text x="581.60" y="1533.10" font-size="6.9" text-anchor="start" fill="#0a0a0a" style="letter-spacing:-0.2px;" stroke="#0a0a0a" stroke-width="0.26">(mA)</text><text x="410.40" y="1464.20" font-size="6.9" text-anchor="start" fill="#0a0a0a" style="" transform="rotate(-90 410.40 1464.20)" textLength="61.20" lengthAdjust="spacingAndGlyphs" stroke="#0a0a0a" stroke-width="0.26">DC CURRENT GAIN</text><text x="410.40" y="1395.40" font-size="7.9" text-anchor="start" fill="#0a0a0a" style="" transform="rotate(-90 410.40 1395.40)" stroke="#0a0a0a" stroke-width="0.26">h<tspan dy="1.9" font-size="0.6em">FE</tspan><tspan dy="-1.9" font-size="0.01em">.</tspan></text><text x="508.90" y="1347.00" font-size="8.2" text-anchor="start" fill="#0a0a0a" style="font-weight:bold;">h</text><text x="513.20" y="1350.80" font-size="4.6" text-anchor="start" fill="#0a0a0a" style="letter-spacing:-0.1px;font-weight:bold;" stroke="#0a0a0a" stroke-width="0.1">FE</text><path d="M529.20,1344.70H545.50" stroke="#111" stroke-width="1.3"/><text x="558.20" y="1347.00" font-size="8.2" text-anchor="start" fill="#0a0a0a" style="font-weight:bold;">I</text><text x="560.90" y="1350.60" font-size="4.6" text-anchor="start" fill="#0a0a0a" style="letter-spacing:-0.1px;font-weight:bold;" stroke="#0a0a0a" stroke-width="0.1">C</text></g>
<g><path d="M178.87,1560.50V1721.70M192.66,1560.50V1721.70M202.44,1560.50V1721.70M210.03,1560.50V1721.70M216.23,1560.50V1721.70M221.47,1560.50V1721.70M226.01,1560.50V1721.70M230.02,1560.50V1721.70M257.17,1560.50V1721.70M270.96,1560.50V1721.70M280.74,1560.50V1721.70M288.33,1560.50V1721.70M294.53,1560.50V1721.70M299.77,1560.50V1721.70M304.31,1560.50V1721.70M308.32,1560.50V1721.70M335.47,1560.50V1721.70M349.26,1560.50V1721.70M359.04,1560.50V1721.70M366.63,1560.50V1721.70M155.30,1693.07H367.20M155.30,1676.33H367.20M155.30,1664.44H367.20M155.30,1655.23H367.20M155.30,1647.70H367.20M155.30,1641.33H367.20M155.30,1635.82H367.20M155.30,1630.95H367.20M155.30,1597.97H367.20M155.30,1581.23H367.20M155.30,1569.34H367.20" stroke="#151515" stroke-width="1.0" stroke-dasharray="1.05 1.25" fill="none"/><path d="M233.60,1560.50V1721.70M311.90,1560.50V1721.70M155.30,1626.60H367.20" stroke="#1a1a1a" stroke-width="1.05" fill="none"/><rect x="155.30" y="1560.50" width="211.90" height="161.20" fill="none" stroke="#111" stroke-width="1.25"/><rect x="233.90" y="1608.60" width="27.00" height="8.20" fill="#fff"/><rect x="233.90" y="1634.80" width="24.00" height="8.40" fill="#fff"/><path d="M155.30,1617.70 L157.68,1617.87 L160.06,1618.03 L162.44,1618.20 L164.82,1618.37 L167.20,1618.53 L169.59,1618.70 L171.97,1618.86 L174.35,1619.02 L176.73,1619.18 L179.11,1619.34 L181.49,1619.50 L183.87,1619.65 L186.25,1619.80 L188.63,1619.95 L191.01,1620.10 L193.39,1620.24 L195.78,1620.39 L198.16,1620.52 L200.54,1620.66 L202.92,1620.78 L205.30,1620.91 L207.68,1621.02 L210.06,1621.14 L212.44,1621.24 L214.82,1621.34 L217.20,1621.43 L219.58,1621.51 L221.97,1621.58 L224.35,1621.65 L226.73,1621.70 L229.11,1621.75 L231.49,1621.78 L233.87,1621.80 L236.25,1621.81 L238.63,1621.81 L241.01,1621.80 L243.39,1621.78 L245.77,1621.75 L248.16,1621.71 L250.54,1621.66 L252.92,1621.60 L255.30,1621.53 L257.68,1621.46 L260.06,1621.37 L262.44,1621.28 L264.82,1621.18 L267.20,1621.08 L269.58,1620.97 L271.96,1620.85 L274.34,1620.73 L276.73,1620.59 L279.11,1620.45 L281.49,1620.29 L283.87,1620.12 L286.25,1619.93 L288.63,1619.72 L291.01,1619.49 L293.39,1619.24 L295.77,1618.96 L298.15,1618.65 L300.53,1618.31 L302.92,1617.94 L305.30,1617.53 L307.68,1617.08 L310.06,1616.60 L312.44,1616.08 L314.82,1615.51 L317.20,1614.89 L319.58,1614.21 L321.96,1613.47 L324.34,1612.65 L326.72,1611.76 L329.11,1610.78 L331.49,1609.71 L333.87,1608.55 L336.25,1607.27 L338.63,1605.89 L341.01,1604.42 L343.39,1602.87 L345.77,1601.26 L348.15,1599.59 L350.53,1597.88 L352.91,1596.14 L355.30,1594.38 L357.68,1592.59 L360.06,1590.78 L362.44,1588.96 L364.82,1587.13 L367.20,1585.30" stroke="#0a0a0a" stroke-width="1.45" fill="none" stroke-linejoin="round"/><path d="M155.30,1622.20 L157.68,1622.41 L160.06,1622.62 L162.44,1622.83 L164.82,1623.04 L167.20,1623.25 L169.59,1623.46 L171.97,1623.66 L174.35,1623.86 L176.73,1624.06 L179.11,1624.26 L181.49,1624.45 L183.87,1624.64 L186.25,1624.82 L188.63,1625.01 L191.01,1625.18 L193.39,1625.35 L195.78,1625.52 L198.16,1625.68 L200.54,1625.83 L202.92,1625.99 L205.30,1626.13 L207.68,1626.28 L210.06,1626.41 L212.44,1626.55 L214.82,1626.68 L217.20,1626.81 L219.58,1626.93 L221.97,1627.05 L224.35,1627.17 L226.73,1627.28 L229.11,1627.40 L231.49,1627.50 L233.87,1627.61 L236.25,1627.72 L238.63,1627.82 L241.01,1627.92 L243.39,1628.01 L245.77,1628.10 L248.16,1628.19 L250.54,1628.27 L252.92,1628.34 L255.30,1628.40 L257.68,1628.46 L260.06,1628.51 L262.44,1628.55 L264.82,1628.57 L267.20,1628.59 L269.58,1628.60 L271.96,1628.60 L274.34,1628.58 L276.73,1628.55 L279.11,1628.50 L281.49,1628.43 L283.87,1628.35 L286.25,1628.24 L288.63,1628.11 L291.01,1627.96 L293.39,1627.78 L295.77,1627.57 L298.15,1627.33 L300.53,1627.07 L302.92,1626.76 L305.30,1626.43 L307.68,1626.06 L310.06,1625.64 L312.44,1625.19 L314.82,1624.70 L317.20,1624.17 L319.58,1623.58 L321.96,1622.95 L324.34,1622.27 L326.72,1621.53 L329.11,1620.73 L331.49,1619.88 L333.87,1618.96 L336.25,1617.97 L338.63,1616.92 L341.01,1615.79 L343.39,1614.58 L345.77,1613.28 L348.15,1611.88 L350.53,1610.39 L352.91,1608.80 L355.30,1607.12 L357.68,1605.38 L360.06,1603.58 L362.44,1601.75 L364.82,1599.88 L367.20,1598.00" stroke="#0a0a0a" stroke-width="1.45" fill="none" stroke-linejoin="round"/><text x="234.60" y="1615.20" font-size="7.2" text-anchor="start" fill="#0a0a0a" style="" textLength="27.50" lengthAdjust="spacingAndGlyphs" stroke="#0a0a0a" stroke-width="0.26">T<tspan dy="1.6" font-size="0.6em">a</tspan><tspan dy="-1.6" font-size="0.01em">.</tspan>=100 <tspan style="font-family:'Liberation Serif',serif" dx="0.4">°</tspan><tspan style="font-family:'Liberation Serif',serif" dx="-1.1">C</tspan></text><text x="234.60" y="1641.60" font-size="7.2" text-anchor="start" fill="#0a0a0a" style="" textLength="23.30" lengthAdjust="spacingAndGlyphs" stroke="#0a0a0a" stroke-width="0.26">T<tspan dy="1.6" font-size="0.6em">a</tspan><tspan dy="-1.6" font-size="0.01em">.</tspan>=25<tspan style="font-family:'Liberation Serif',serif" dx="0.4">°</tspan><tspan style="font-family:'Liberation Serif',serif" dx="-1.1">C</tspan></text><text x="347.10" y="1714.50" font-size="7.2" text-anchor="start" fill="#0a0a0a" style="" textLength="15.00" lengthAdjust="spacingAndGlyphs" stroke="#0a0a0a" stroke-width="0.26">β=10</text><text x="152.20" y="1562.45" font-size="5.6" text-anchor="end" fill="#0a0a0a" style="letter-spacing:-0.1px;font-weight:bold;" stroke="#0a0a0a" stroke-width="0.12">-500</text><text x="152.20" y="1628.55" font-size="5.6" text-anchor="end" fill="#0a0a0a" style="letter-spacing:-0.1px;font-weight:bold;" stroke="#0a0a0a" stroke-width="0.12">-100</text><text x="152.20" y="1723.65" font-size="5.6" text-anchor="end" fill="#0a0a0a" style="letter-spacing:-0.1px;font-weight:bold;" stroke="#0a0a0a" stroke-width="0.12">-10</text><text x="155.30" y="1728.60" font-size="5.6" text-anchor="middle" fill="#0a0a0a" style="letter-spacing:-0.1px;font-weight:bold;" stroke="#0a0a0a" stroke-width="0.12">-0.1</text><text x="233.60" y="1728.60" font-size="5.6" text-anchor="middle" fill="#0a0a0a" style="letter-spacing:-0.1px;font-weight:bold;" stroke="#0a0a0a" stroke-width="0.12">-1</text><text x="311.90" y="1728.60" font-size="5.6" text-anchor="middle" fill="#0a0a0a" style="letter-spacing:-0.1px;font-weight:bold;" stroke="#0a0a0a" stroke-width="0.12">-10</text><text x="365.10" y="1728.60" font-size="5.6" text-anchor="middle" fill="#0a0a0a" style="letter-spacing:-0.1px;font-weight:bold;" stroke="#0a0a0a" stroke-width="0.12">-50</text><text x="200.80" y="1739.80" font-size="6.9" text-anchor="start" fill="#0a0a0a" style="" textLength="74.50" lengthAdjust="spacingAndGlyphs" stroke="#0a0a0a" stroke-width="0.26">COLLECTOR CURREMT</text><text x="283.80" y="1739.80" font-size="6.9" text-anchor="start" fill="#0a0a0a" style="font-weight:bold;" stroke="#0a0a0a" stroke-width="0.26">I<tspan dy="1.6" font-size="0.62em">C</tspan><tspan dy="-1.6" font-size="0.01em">.</tspan></text><text x="296.50" y="1739.80" font-size="6.9" text-anchor="start" fill="#0a0a0a" style="letter-spacing:-0.2px;" stroke="#0a0a0a" stroke-width="0.26">(mA)</text><text x="123.40" y="1700.00" font-size="6.9" text-anchor="start" fill="#0a0a0a" style="" transform="rotate(-90 123.40 1700.00)" textLength="116.50" lengthAdjust="spacingAndGlyphs" stroke="#0a0a0a" stroke-width="0.26">COLLECTOR-EMITTER SATURATION</text><text x="132.40" y="1678.50" font-size="6.9" text-anchor="start" fill="#0a0a0a" style="" transform="rotate(-90 132.40 1678.50)" textLength="31.00" lengthAdjust="spacingAndGlyphs" stroke="#0a0a0a" stroke-width="0.26">VOLTAGE</text><text x="132.40" y="1640.50" font-size="6.9" text-anchor="start" fill="#0a0a0a" style="" transform="rotate(-90 132.40 1640.50)" stroke="#0a0a0a" stroke-width="0.26">V<tspan dy="1.6" font-size="0.6em">CEsat</tspan><tspan dy="-1.6" font-size="0.01em">.</tspan></text><text x="132.40" y="1618.60" font-size="6.9" text-anchor="start" fill="#0a0a0a" style="letter-spacing:-0.2px;" transform="rotate(-90 132.40 1618.60)" stroke="#0a0a0a" stroke-width="0.26">(mV)</text><text x="230.60" y="1555.20" font-size="8.2" text-anchor="start" fill="#0a0a0a" style="font-weight:bold;">V</text><text x="235.40" y="1558.20" font-size="4.6" text-anchor="start" fill="#0a0a0a" style="letter-spacing:-0.1px;font-weight:bold;" stroke="#0a0a0a" stroke-width="0.1">CEsat</text><path d="M257.90,1552.70H274.70" stroke="#111" stroke-width="1.3"/><text x="288.50" y="1555.20" font-size="8.2" text-anchor="start" fill="#0a0a0a" style="font-weight:bold;">I</text><text x="290.60" y="1559.20" font-size="4.6" text-anchor="start" fill="#0a0a0a" style="letter-spacing:-0.1px;font-weight:bold;" stroke="#0a0a0a" stroke-width="0.1">C</text></g>
<g><path d="M452.84,1560.50V1721.70M465.33,1560.50V1721.70M474.19,1560.50V1721.70M481.06,1560.50V1721.70M486.67,1560.50V1721.70M491.42,1560.50V1721.70M495.53,1560.50V1721.70M499.16,1560.50V1721.70M523.74,1560.50V1721.70M536.23,1560.50V1721.70M545.09,1560.50V1721.70M551.96,1560.50V1721.70M557.57,1560.50V1721.70M562.32,1560.50V1721.70M566.43,1560.50V1721.70M570.06,1560.50V1721.70M594.64,1560.50V1721.70M607.13,1560.50V1721.70M615.99,1560.50V1721.70M622.86,1560.50V1721.70M628.47,1560.50V1721.70M633.22,1560.50V1721.70M637.33,1560.50V1721.70M640.96,1560.50V1721.70M431.50,1577.81H644.20M431.50,1597.39H644.20M431.50,1646.74H644.20M431.50,1679.47H644.20" stroke="#151515" stroke-width="1.0" stroke-dasharray="1.05 1.25" fill="none"/><path d="M502.40,1560.50V1721.70M573.30,1560.50V1721.70M431.50,1620.00H644.20" stroke="#1a1a1a" stroke-width="1.05" fill="none"/><rect x="431.50" y="1560.50" width="212.70" height="161.20" fill="none" stroke="#111" stroke-width="1.25"/><rect x="503.20" y="1596.30" width="24.00" height="8.00" fill="#fff"/><rect x="503.60" y="1651.80" width="28.00" height="8.20" fill="#fff"/><rect x="623.40" y="1706.40" width="16.60" height="9.60" fill="#fff"/><path d="M431.50,1634.70 C443.32,1631.82 478.77,1623.52 502.40,1617.40 C526.03,1611.28 549.67,1604.77 573.30,1598.00 C596.93,1591.23 632.38,1580.33 644.20,1576.80" stroke="#0a0a0a" stroke-width="1.45" fill="none" stroke-linejoin="round"/><path d="M431.50,1672.50 C443.32,1668.25 478.77,1655.83 502.40,1647.00 C526.03,1638.17 549.67,1628.85 573.30,1619.50 C596.93,1610.15 632.38,1595.67 644.20,1590.90" stroke="#0a0a0a" stroke-width="1.45" fill="none" stroke-linejoin="round"/><text x="503.50" y="1602.90" font-size="7.2" text-anchor="start" fill="#0a0a0a" style="" textLength="22.60" lengthAdjust="spacingAndGlyphs" stroke="#0a0a0a" stroke-width="0.26">T<tspan dy="1.6" font-size="0.6em">a</tspan><tspan dy="-1.6" font-size="0.01em">.</tspan>=25<tspan style="font-family:'Liberation Serif',serif" dx="0.4">°</tspan><tspan style="font-family:'Liberation Serif',serif" dx="-1.1">C</tspan></text><text x="504.40" y="1658.50" font-size="7.2" text-anchor="start" fill="#0a0a0a" style="" textLength="27.00" lengthAdjust="spacingAndGlyphs" stroke="#0a0a0a" stroke-width="0.26">T<tspan dy="1.6" font-size="0.6em">a</tspan><tspan dy="-1.6" font-size="0.01em">.</tspan>=100 <tspan style="font-family:'Liberation Serif',serif" dx="0.4">°</tspan><tspan style="font-family:'Liberation Serif',serif" dx="-1.1">C</tspan></text><text x="624.40" y="1713.60" font-size="7.2" text-anchor="start" fill="#0a0a0a" style="" textLength="14.00" lengthAdjust="spacingAndGlyphs" stroke="#0a0a0a" stroke-width="0.26">β=10</text><text x="428.40" y="1562.45" font-size="5.6" text-anchor="end" fill="#0a0a0a" style="letter-spacing:-0.1px;font-weight:bold;" stroke="#0a0a0a" stroke-width="0.12">-900</text><text x="428.40" y="1621.95" font-size="5.6" text-anchor="end" fill="#0a0a0a" style="letter-spacing:-0.1px;font-weight:bold;" stroke="#0a0a0a" stroke-width="0.12">-600</text><text x="428.40" y="1723.65" font-size="5.6" text-anchor="end" fill="#0a0a0a" style="letter-spacing:-0.1px;font-weight:bold;" stroke="#0a0a0a" stroke-width="0.12">-300</text><text x="431.50" y="1728.60" font-size="5.6" text-anchor="middle" fill="#0a0a0a" style="letter-spacing:-0.1px;font-weight:bold;" stroke="#0a0a0a" stroke-width="0.12">-0.1</text><text x="502.40" y="1728.60" font-size="5.6" text-anchor="middle" fill="#0a0a0a" style="letter-spacing:-0.1px;font-weight:bold;" stroke="#0a0a0a" stroke-width="0.12">-1</text><text x="573.30" y="1728.60" font-size="5.6" text-anchor="middle" fill="#0a0a0a" style="letter-spacing:-0.1px;font-weight:bold;" stroke="#0a0a0a" stroke-width="0.12">-10</text><text x="642.60" y="1728.60" font-size="5.6" text-anchor="middle" fill="#0a0a0a" style="letter-spacing:-0.1px;font-weight:bold;" stroke="#0a0a0a" stroke-width="0.12">-100</text><text x="484.30" y="1737.80" font-size="6.9" text-anchor="start" fill="#0a0a0a" style="" textLength="74.50" lengthAdjust="spacingAndGlyphs" stroke="#0a0a0a" stroke-width="0.26">COLLECTOR CURREMT</text><text x="566.80" y="1737.80" font-size="6.9" text-anchor="start" fill="#0a0a0a" style="font-weight:bold;" stroke="#0a0a0a" stroke-width="0.26">I<tspan dy="1.6" font-size="0.62em">C</tspan><tspan dy="-1.6" font-size="0.01em">.</tspan></text><text x="579.60" y="1737.80" font-size="6.9" text-anchor="start" fill="#0a0a0a" style="letter-spacing:-0.2px;" stroke="#0a0a0a" stroke-width="0.26">(mA)</text><text x="401.60" y="1691.00" font-size="6.9" text-anchor="start" fill="#0a0a0a" style="" transform="rotate(-90 401.60 1691.00)" textLength="94.00" lengthAdjust="spacingAndGlyphs" stroke="#0a0a0a" stroke-width="0.26">BASE-EMITTER SATURATION</text><text x="409.90" y="1682.00" font-size="6.9" text-anchor="start" fill="#0a0a0a" style="" transform="rotate(-90 409.90 1682.00)" textLength="31.00" lengthAdjust="spacingAndGlyphs" stroke="#0a0a0a" stroke-width="0.26">VOLTAGE</text><text x="409.90" y="1644.60" font-size="6.9" text-anchor="start" fill="#0a0a0a" style="" transform="rotate(-90 409.90 1644.60)" stroke="#0a0a0a" stroke-width="0.26">V<tspan dy="1.6" font-size="0.6em">BEsat</tspan><tspan dy="-1.6" font-size="0.01em">.</tspan></text><text x="409.90" y="1621.80" font-size="6.9" text-anchor="start" fill="#0a0a0a" style="letter-spacing:-0.2px;" transform="rotate(-90 409.90 1621.80)" stroke="#0a0a0a" stroke-width="0.26">(mV)</text><text x="499.50" y="1554.20" font-size="8.2" text-anchor="start" fill="#0a0a0a" style="font-weight:bold;">V</text><text x="504.90" y="1557.70" font-size="4.6" text-anchor="start" fill="#0a0a0a" style="letter-spacing:-0.1px;font-weight:bold;" stroke="#0a0a0a" stroke-width="0.1">BEsat</text><path d="M525.90,1552.30H543.50" stroke="#111" stroke-width="1.3"/><text x="556.40" y="1554.50" font-size="8.2" text-anchor="start" fill="#0a0a0a" style="font-weight:bold;">I</text><text x="558.60" y="1558.60" font-size="4.6" text-anchor="start" fill="#0a0a0a" style="letter-spacing:-0.1px;font-weight:bold;" stroke="#0a0a0a" stroke-width="0.1">C</text></g>
<g><path d="M172.97,1767.30V1928.40M190.63,1767.30V1928.40M225.97,1767.30V1928.40M243.63,1767.30V1928.40M278.97,1767.30V1928.40M296.64,1767.30V1928.40M331.97,1767.30V1928.40M349.64,1767.30V1928.40M155.30,1912.53H367.30M155.30,1903.08H367.30M155.30,1896.37H367.30M155.30,1891.17H367.30M155.30,1886.91H367.30M155.30,1883.32H367.30M155.30,1880.20H367.30M155.30,1877.46H367.30M155.30,1858.83H367.30M155.30,1849.38H367.30M155.30,1842.67H367.30M155.30,1837.47H367.30M155.30,1833.21H367.30M155.30,1829.62H367.30M155.30,1826.50H367.30M155.30,1823.76H367.30M155.30,1805.13H367.30M155.30,1795.68H367.30M155.30,1788.97H367.30M155.30,1783.77H367.30M155.30,1779.51H367.30M155.30,1775.92H367.30M155.30,1772.80H367.30M155.30,1770.06H367.30" stroke="#151515" stroke-width="1.0" stroke-dasharray="1.05 1.25" fill="none"/><path d="M208.30,1767.30V1928.40M261.30,1767.30V1928.40M314.30,1767.30V1928.40M155.30,1821.30H367.30M155.30,1875.00H367.30" stroke="#1a1a1a" stroke-width="1.05" fill="none"/><rect x="155.30" y="1767.30" width="212.00" height="161.10" fill="none" stroke="#111" stroke-width="1.25"/><rect x="289.70" y="1904.30" width="75.30" height="22.40" fill="#fff"/><rect transform="translate(237.7,1842.7) rotate(-77)" x="-13.00" y="-6.30" width="27.00" height="8.30" fill="#fff"/><rect transform="translate(274.9,1845.3) rotate(-78)" x="-11.50" y="-6.20" width="24.00" height="8.20" fill="#fff"/><path d="M230.20,1928.40 L230.62,1926.59 L231.04,1924.78 L231.47,1922.97 L231.89,1921.16 L232.31,1919.35 L232.73,1917.54 L233.16,1915.73 L233.58,1913.92 L234.00,1912.11 L234.42,1910.30 L234.84,1908.49 L235.27,1906.68 L235.69,1904.87 L236.11,1903.06 L236.53,1901.25 L236.95,1899.44 L237.37,1897.63 L237.79,1895.82 L238.21,1894.01 L238.63,1892.20 L239.05,1890.39 L239.47,1888.58 L239.89,1886.77 L240.31,1884.96 L240.72,1883.15 L241.14,1881.34 L241.56,1879.53 L241.98,1877.72 L242.39,1875.91 L242.81,1874.10 L243.22,1872.29 L243.64,1870.48 L244.05,1868.67 L244.47,1866.86 L244.88,1865.05 L245.30,1863.24 L245.71,1861.43 L246.12,1859.62 L246.53,1857.81 L246.95,1856.00 L247.36,1854.19 L247.77,1852.38 L248.18,1850.57 L248.59,1848.76 L249.00,1846.94 L249.41,1845.13 L249.82,1843.32 L250.23,1841.51 L250.64,1839.70 L251.05,1837.89 L251.45,1836.08 L251.86,1834.27 L252.27,1832.46 L252.68,1830.65 L253.08,1828.84 L253.49,1827.03 L253.90,1825.22 L254.30,1823.41 L254.71,1821.60 L255.12,1819.79 L255.52,1817.98 L255.93,1816.17 L256.33,1814.36 L256.74,1812.55 L257.15,1810.74 L257.56,1808.93 L257.97,1807.12 L258.38,1805.31 L258.80,1803.50 L259.22,1801.69 L259.64,1799.88 L260.06,1798.07 L260.49,1796.26 L260.92,1794.45 L261.35,1792.64 L261.79,1790.83 L262.25,1789.02 L262.74,1787.21 L263.25,1785.40 L263.79,1783.59 L264.38,1781.78 L265.02,1779.97 L265.72,1778.16 L266.47,1776.35 L267.27,1774.54 L268.12,1772.73 L269.00,1770.92 L269.89,1769.11 L270.80,1767.30" stroke="#0a0a0a" stroke-width="1.45" fill="none" stroke-linejoin="round"/><path d="M250.80,1928.40 L251.18,1926.59 L251.56,1924.78 L251.93,1922.97 L252.31,1921.16 L252.69,1919.35 L253.07,1917.54 L253.44,1915.73 L253.82,1913.92 L254.20,1912.11 L254.58,1910.30 L254.95,1908.49 L255.33,1906.68 L255.70,1904.87 L256.08,1903.06 L256.45,1901.25 L256.83,1899.44 L257.20,1897.63 L257.57,1895.82 L257.94,1894.01 L258.31,1892.20 L258.68,1890.39 L259.05,1888.58 L259.42,1886.77 L259.79,1884.96 L260.16,1883.15 L260.53,1881.34 L260.89,1879.53 L261.25,1877.72 L261.62,1875.91 L261.98,1874.10 L262.34,1872.29 L262.70,1870.48 L263.06,1868.67 L263.42,1866.86 L263.78,1865.05 L264.14,1863.24 L264.50,1861.43 L264.85,1859.62 L265.21,1857.81 L265.57,1856.00 L265.93,1854.19 L266.28,1852.38 L266.64,1850.57 L267.00,1848.76 L267.36,1846.94 L267.72,1845.13 L268.08,1843.32 L268.44,1841.51 L268.80,1839.70 L269.17,1837.89 L269.53,1836.08 L269.90,1834.27 L270.27,1832.46 L270.64,1830.65 L271.01,1828.84 L271.38,1827.03 L271.76,1825.22 L272.14,1823.41 L272.52,1821.60 L272.90,1819.79 L273.28,1817.98 L273.67,1816.17 L274.05,1814.36 L274.44,1812.55 L274.83,1810.74 L275.22,1808.93 L275.61,1807.12 L276.00,1805.31 L276.39,1803.50 L276.78,1801.69 L277.17,1799.88 L277.56,1798.07 L277.94,1796.26 L278.33,1794.45 L278.71,1792.64 L279.09,1790.83 L279.46,1789.02 L279.84,1787.21 L280.21,1785.40 L280.59,1783.59 L280.96,1781.78 L281.33,1779.97 L281.70,1778.16 L282.07,1776.35 L282.43,1774.54 L282.80,1772.73 L283.17,1770.92 L283.53,1769.11 L283.90,1767.30" stroke="#0a0a0a" stroke-width="1.45" fill="none" stroke-linejoin="round"/><text x="237.20" y="1856.00" font-size="7.2" text-anchor="start" fill="#0a0a0a" style="" transform="rotate(-77 237.20 1856.00)" textLength="25.60" lengthAdjust="spacingAndGlyphs" stroke="#0a0a0a" stroke-width="0.26">T<tspan dy="1.6" font-size="0.6em">a</tspan><tspan dy="-1.6" font-size="0.01em">.</tspan>=100<tspan style="font-family:'Liberation Serif',serif" dx="0.4">°</tspan><tspan style="font-family:'Liberation Serif',serif" dx="-1.1">C</tspan></text><text x="274.80" y="1856.80" font-size="7.2" text-anchor="start" fill="#0a0a0a" style="" transform="rotate(-78 274.80 1856.80)" textLength="23.30" lengthAdjust="spacingAndGlyphs" stroke="#0a0a0a" stroke-width="0.26">T<tspan dy="1.6" font-size="0.6em">a</tspan><tspan dy="-1.6" font-size="0.01em">.</tspan>=25 <tspan style="font-family:'Liberation Serif',serif" dx="0.4">°</tspan><tspan style="font-family:'Liberation Serif',serif" dx="-1.1">C</tspan></text><text x="295.60" y="1912.10" font-size="7.2" text-anchor="start" fill="#0a0a0a" style="" textLength="60.70" lengthAdjust="spacingAndGlyphs" stroke="#0a0a0a" stroke-width="0.26">COMMON EMITTER</text><text x="295.60" y="1919.80" font-size="7.2" text-anchor="start" fill="#0a0a0a" style="" textLength="30.00" lengthAdjust="spacingAndGlyphs" stroke="#0a0a0a" stroke-width="0.26">V<tspan dy="1.6" font-size="0.6em">CE</tspan><tspan dy="-1.6" font-size="0.01em">.</tspan>= -10V</text><text x="152.20" y="1769.25" font-size="5.6" text-anchor="end" fill="#0a0a0a" style="letter-spacing:-0.1px;font-weight:bold;" stroke="#0a0a0a" stroke-width="0.12">-100</text><text x="152.20" y="1823.25" font-size="5.6" text-anchor="end" fill="#0a0a0a" style="letter-spacing:-0.1px;font-weight:bold;" stroke="#0a0a0a" stroke-width="0.12">-10</text><text x="152.20" y="1876.95" font-size="5.6" text-anchor="end" fill="#0a0a0a" style="letter-spacing:-0.1px;font-weight:bold;" stroke="#0a0a0a" stroke-width="0.12">-1</text><text x="152.20" y="1930.35" font-size="5.6" text-anchor="end" fill="#0a0a0a" style="letter-spacing:-0.1px;font-weight:bold;" stroke="#0a0a0a" stroke-width="0.12">-0.1</text><text x="154.70" y="1935.70" font-size="5.6" text-anchor="middle" fill="#0a0a0a" style="letter-spacing:-0.1px;font-weight:bold;" stroke="#0a0a0a" stroke-width="0.12">-0</text><text x="208.30" y="1935.70" font-size="5.6" text-anchor="middle" fill="#0a0a0a" style="letter-spacing:-0.1px;font-weight:bold;" stroke="#0a0a0a" stroke-width="0.12">-300</text><text x="261.30" y="1935.70" font-size="5.6" text-anchor="middle" fill="#0a0a0a" style="letter-spacing:-0.1px;font-weight:bold;" stroke="#0a0a0a" stroke-width="0.12">-600</text><text x="314.30" y="1935.70" font-size="5.6" text-anchor="middle" fill="#0a0a0a" style="letter-spacing:-0.1px;font-weight:bold;" stroke="#0a0a0a" stroke-width="0.12">-900</text><text x="366.30" y="1935.70" font-size="5.6" text-anchor="middle" fill="#0a0a0a" style="letter-spacing:-0.1px;font-weight:bold;" stroke="#0a0a0a" stroke-width="0.12">-1200</text><text x="200.30" y="1945.60" font-size="6.9" text-anchor="start" fill="#0a0a0a" style="" textLength="83.50" lengthAdjust="spacingAndGlyphs" stroke="#0a0a0a" stroke-width="0.26">BASE-EMMITER VOLTAGE</text><text x="290.60" y="1945.60" font-size="6.9" text-anchor="start" fill="#0a0a0a" style="" stroke="#0a0a0a" stroke-width="0.26">V<tspan dy="1.6" font-size="0.62em">BE</tspan><tspan dy="-1.6" font-size="0.01em">.</tspan></text><text x="303.80" y="1945.60" font-size="6.9" text-anchor="start" fill="#0a0a0a" style="letter-spacing:-0.2px;" stroke="#0a0a0a" stroke-width="0.26">(mV)</text><text x="133.60" y="1901.00" font-size="6.9" text-anchor="start" fill="#0a0a0a" style="" transform="rotate(-90 133.60 1901.00)" textLength="74.50" lengthAdjust="spacingAndGlyphs" stroke="#0a0a0a" stroke-width="0.26">COLLECTOR CURRENT</text><text x="133.60" y="1820.50" font-size="6.9" text-anchor="start" fill="#0a0a0a" style="font-weight:bold;" transform="rotate(-90 133.60 1820.50)" stroke="#0a0a0a" stroke-width="0.26">I<tspan dy="1.6" font-size="0.62em">C</tspan><tspan dy="-1.6" font-size="0.01em">.</tspan></text><text x="133.60" y="1807.00" font-size="6.9" text-anchor="start" fill="#0a0a0a" style="letter-spacing:-0.2px;" transform="rotate(-90 133.60 1807.00)" stroke="#0a0a0a" stroke-width="0.26">(mA)</text><text x="230.60" y="1761.60" font-size="8.2" text-anchor="start" fill="#0a0a0a" style="font-weight:bold;">I</text><text x="232.60" y="1764.60" font-size="4.6" text-anchor="start" fill="#0a0a0a" style="letter-spacing:-0.1px;font-weight:bold;" stroke="#0a0a0a" stroke-width="0.1">C</text><path d="M243.80,1759.90H260.20" stroke="#111" stroke-width="1.3"/><text x="272.10" y="1761.60" font-size="8.2" text-anchor="start" fill="#0a0a0a" style="font-weight:bold;">V</text><text x="277.50" y="1764.60" font-size="4.6" text-anchor="start" fill="#0a0a0a" style="letter-spacing:-0.1px;font-weight:bold;" stroke="#0a0a0a" stroke-width="0.1">BE</text></g>
<g><path d="M452.84,1767.30V1928.50M465.33,1767.30V1928.50M474.19,1767.30V1928.50M481.06,1767.30V1928.50M486.67,1767.30V1928.50M491.42,1767.30V1928.50M495.53,1767.30V1928.50M499.16,1767.30V1928.50M523.74,1767.30V1928.50M536.23,1767.30V1928.50M545.09,1767.30V1928.50M551.96,1767.30V1928.50M557.57,1767.30V1928.50M562.32,1767.30V1928.50M566.43,1767.30V1928.50M570.06,1767.30V1928.50M594.64,1767.30V1928.50M607.13,1767.30V1928.50M615.99,1767.30V1928.50M622.86,1767.30V1928.50M628.47,1767.30V1928.50M633.22,1767.30V1928.50M637.33,1767.30V1928.50M640.96,1767.30V1928.50M431.50,1895.73H644.20M431.50,1876.50H644.20M431.50,1862.86H644.20M431.50,1852.27H644.20M431.50,1843.63H644.20M431.50,1836.32H644.20M431.50,1829.98H644.20M431.50,1824.40H644.20M431.50,1786.53H644.20" stroke="#151515" stroke-width="1.0" stroke-dasharray="1.05 1.25" fill="none"/><path d="M502.40,1767.30V1928.50M573.30,1767.30V1928.50M431.50,1819.40H644.20" stroke="#1a1a1a" stroke-width="1.05" fill="none"/><rect x="431.50" y="1767.30" width="212.70" height="161.20" fill="none" stroke="#111" stroke-width="1.25"/><rect x="573.40" y="1892.80" width="68.30" height="34.80" fill="#fff"/><path d="M431.50,1854.50 C437.14,1852.78 453.51,1847.78 465.33,1844.20 C477.14,1840.62 492.45,1836.05 502.40,1833.00 C512.35,1829.95 518.28,1827.97 525.00,1825.90 C531.72,1823.83 536.82,1822.13 542.70,1820.60 C548.58,1819.07 554.42,1817.58 560.30,1816.70 C566.18,1815.82 572.12,1815.08 578.00,1815.30 C583.88,1815.52 590.90,1816.82 595.60,1818.00 C600.30,1819.18 602.67,1820.63 606.20,1822.40 C609.73,1824.17 613.85,1826.40 616.80,1828.60 C619.75,1830.80 622.05,1833.25 623.90,1835.60 C625.75,1837.95 627.23,1841.52 627.90,1842.70" stroke="#0a0a0a" stroke-width="1.45" fill="none" stroke-linejoin="round"/><text x="574.40" y="1901.80" font-size="7.2" text-anchor="start" fill="#0a0a0a" style="" textLength="60.90" lengthAdjust="spacingAndGlyphs" stroke="#0a0a0a" stroke-width="0.26">COMMON EMITTER</text><text x="574.40" y="1911.00" font-size="7.2" text-anchor="start" fill="#0a0a0a" style="" textLength="28.00" lengthAdjust="spacingAndGlyphs" stroke="#0a0a0a" stroke-width="0.26">V<tspan dy="1.6" font-size="0.6em">CE</tspan><tspan dy="-1.6" font-size="0.01em">.</tspan>=-20V</text><text x="574.40" y="1920.90" font-size="7.2" text-anchor="start" fill="#0a0a0a" style="" textLength="23.30" lengthAdjust="spacingAndGlyphs" stroke="#0a0a0a" stroke-width="0.26">T<tspan dy="1.6" font-size="0.6em">a</tspan><tspan dy="-1.6" font-size="0.01em">.</tspan>=25<tspan style="font-family:'Liberation Serif',serif" dx="0.4">°</tspan><tspan style="font-family:'Liberation Serif',serif" dx="-1.1">C</tspan></text><text x="428.20" y="1770.65" font-size="5.6" text-anchor="end" fill="#0a0a0a" style="letter-spacing:-0.1px;font-weight:bold;" stroke="#0a0a0a" stroke-width="0.12">300</text><text x="428.20" y="1821.35" font-size="5.6" text-anchor="end" fill="#0a0a0a" style="letter-spacing:-0.1px;font-weight:bold;" stroke="#0a0a0a" stroke-width="0.12">100</text><text x="428.20" y="1930.45" font-size="5.6" text-anchor="end" fill="#0a0a0a" style="letter-spacing:-0.1px;font-weight:bold;" stroke="#0a0a0a" stroke-width="0.12">10</text><text x="431.50" y="1935.70" font-size="5.6" text-anchor="middle" fill="#0a0a0a" style="letter-spacing:-0.1px;font-weight:bold;" stroke="#0a0a0a" stroke-width="0.12">-0.1</text><text x="502.40" y="1935.70" font-size="5.6" text-anchor="middle" fill="#0a0a0a" style="letter-spacing:-0.1px;font-weight:bold;" stroke="#0a0a0a" stroke-width="0.12">-1</text><text x="573.30" y="1935.70" font-size="5.6" text-anchor="middle" fill="#0a0a0a" style="letter-spacing:-0.1px;font-weight:bold;" stroke="#0a0a0a" stroke-width="0.12">-10</text><text x="642.80" y="1935.70" font-size="5.6" text-anchor="middle" fill="#0a0a0a" style="letter-spacing:-0.1px;font-weight:bold;" stroke="#0a0a0a" stroke-width="0.12">-100</text><text x="483.00" y="1944.20" font-size="6.9" text-anchor="start" fill="#0a0a0a" style="" textLength="74.50" lengthAdjust="spacingAndGlyphs" stroke="#0a0a0a" stroke-width="0.26">COLLECTOR CURRENT</text><text x="565.00" y="1944.20" font-size="6.9" text-anchor="start" fill="#0a0a0a" style="font-weight:bold;" stroke="#0a0a0a" stroke-width="0.26">I<tspan dy="1.6" font-size="0.62em">CC</tspan><tspan dy="-1.6" font-size="0.01em">.</tspan></text><text x="577.50" y="1944.20" font-size="6.9" text-anchor="start" fill="#0a0a0a" style="letter-spacing:-0.2px;" stroke="#0a0a0a" stroke-width="0.26">(mA)</text><text x="409.90" y="1904.50" font-size="6.9" text-anchor="start" fill="#0a0a0a" style="" transform="rotate(-90 409.90 1904.50)" textLength="83.50" lengthAdjust="spacingAndGlyphs" stroke="#0a0a0a" stroke-width="0.26">TRANSITION FREQUENCY</text><text x="409.90" y="1814.20" font-size="6.9" text-anchor="start" fill="#0a0a0a" style="font-weight:bold;" transform="rotate(-90 409.90 1814.20)" stroke="#0a0a0a" stroke-width="0.26">f<tspan dy="1.6" font-size="0.62em">T</tspan><tspan dy="-1.6" font-size="0.01em">.</tspan></text><text x="409.90" y="1802.80" font-size="6.9" text-anchor="start" fill="#0a0a0a" style="letter-spacing:-0.2px;" transform="rotate(-90 409.90 1802.80)" stroke="#0a0a0a" stroke-width="0.26">(MHz)</text><text x="514.80" y="1761.60" font-size="8.2" text-anchor="start" fill="#0a0a0a" style="font-weight:bold;">f</text><text x="517.60" y="1765.00" font-size="4.6" text-anchor="start" fill="#0a0a0a" style="letter-spacing:-0.1px;font-weight:bold;" stroke="#0a0a0a" stroke-width="0.1">T</text><path d="M528.60,1759.70H545.30" stroke="#111" stroke-width="1.3"/><text x="560.80" y="1761.60" font-size="8.2" text-anchor="start" fill="#0a0a0a" style="font-weight:bold;">I</text><text x="562.80" y="1764.60" font-size="4.6" text-anchor="start" fill="#0a0a0a" style="letter-spacing:-0.1px;font-weight:bold;" stroke="#0a0a0a" stroke-width="0.1">C</text></g>
<g><path d="M182.92,1974.20V2136.00M199.08,1974.20V2136.00M210.54,1974.20V2136.00M219.43,1974.20V2136.00M226.70,1974.20V2136.00M232.84,1974.20V2136.00M238.16,1974.20V2136.00M242.85,1974.20V2136.00M274.67,1974.20V2136.00M290.83,1974.20V2136.00M302.29,1974.20V2136.00M311.18,1974.20V2136.00M318.45,1974.20V2136.00M324.59,1974.20V2136.00M329.91,1974.20V2136.00M334.60,1974.20V2136.00M155.30,2111.85H366.90M155.30,2097.60H366.90M155.30,2087.49H366.90M155.30,2079.65H366.90M155.30,2073.25H366.90M155.30,2067.83H366.90M155.30,2063.14H366.90M155.30,2059.00H366.90M155.30,2030.95H366.90M155.30,2016.70H366.90M155.30,2006.59H366.90M155.30,1998.75H366.90M155.30,1992.35H366.90M155.30,1986.93H366.90M155.30,1982.24H366.90M155.30,1978.10H366.90" stroke="#151515" stroke-width="1.0" stroke-dasharray="1.05 1.25" fill="none"/><path d="M247.05,1974.20V2136.00M338.80,1974.20V2136.00M155.30,2055.30H366.90" stroke="#1a1a1a" stroke-width="1.05" fill="none"/><rect x="155.30" y="1974.20" width="211.60" height="161.80" fill="none" stroke="#111" stroke-width="1.25"/><rect x="330.30" y="1975.40" width="35.60" height="37.00" fill="#fff"/><path d="M155.30,1991.70 C162.70,1992.12 187.88,1993.25 199.70,1994.20 C211.52,1995.15 218.25,1996.22 226.20,1997.40 C234.15,1998.58 239.32,1999.68 247.40,2001.30 C255.48,2002.92 265.43,2004.82 274.70,2007.10 C283.97,2009.38 292.32,2012.00 303.00,2015.00 C313.68,2018.00 332.83,2023.42 338.80,2025.10" stroke="#0a0a0a" stroke-width="1.45" fill="none" stroke-linejoin="round"/><path d="M155.30,2035.30 C162.70,2036.03 187.88,2038.13 199.70,2039.70 C211.52,2041.27 218.25,2043.02 226.20,2044.70 C234.15,2046.38 239.32,2047.98 247.40,2049.80 C255.48,2051.62 265.43,2053.15 274.70,2055.60 C283.97,2058.05 292.32,2060.97 303.00,2064.50 C313.68,2068.03 330.03,2073.65 338.80,2076.80 C347.57,2079.95 352.80,2082.30 355.60,2083.40" stroke="#0a0a0a" stroke-width="1.45" fill="none" stroke-linejoin="round"/><text x="231.00" y="2013.30" font-size="7.2" text-anchor="start" fill="#0a0a0a" style="" stroke="#0a0a0a" stroke-width="0.26">C<tspan dy="1.6" font-size="0.6em">ib</tspan><tspan dy="-1.6" font-size="0.01em">.</tspan></text><text x="229.20" y="2063.20" font-size="7.2" text-anchor="start" fill="#0a0a0a" style="" stroke="#0a0a0a" stroke-width="0.26">C<tspan dy="1.6" font-size="0.6em">ob</tspan><tspan dy="-1.6" font-size="0.01em">.</tspan></text><text x="333.30" y="1986.80" font-size="7.2" text-anchor="start" fill="#0a0a0a" style="" textLength="22.60" lengthAdjust="spacingAndGlyphs" stroke="#0a0a0a" stroke-width="0.26">f=1MHz</text><text x="333.30" y="1994.70" font-size="7.2" text-anchor="start" fill="#0a0a0a" style="" textLength="26.00" lengthAdjust="spacingAndGlyphs" stroke="#0a0a0a" stroke-width="0.26">I<tspan dy="1.6" font-size="0.6em">E</tspan><tspan dy="-1.6" font-size="0.01em">.</tspan>=0/I<tspan dy="1.6" font-size="0.6em">C</tspan><tspan dy="-1.6" font-size="0.01em">.</tspan>=0</text><text x="333.30" y="2004.40" font-size="7.2" text-anchor="start" fill="#0a0a0a" style="" textLength="24.50" lengthAdjust="spacingAndGlyphs" stroke="#0a0a0a" stroke-width="0.26">T<tspan dy="1.6" font-size="0.6em">a</tspan><tspan dy="-1.6" font-size="0.01em">.</tspan>=25 <tspan style="font-family:'Liberation Serif',serif" dx="0.4">°</tspan><tspan style="font-family:'Liberation Serif',serif" dx="-1.1">C</tspan></text><text x="152.40" y="1976.15" font-size="5.6" text-anchor="end" fill="#0a0a0a" style="letter-spacing:-0.1px;font-weight:bold;" stroke="#0a0a0a" stroke-width="0.12">100</text><text x="152.40" y="2057.25" font-size="5.6" text-anchor="end" fill="#0a0a0a" style="letter-spacing:-0.1px;font-weight:bold;" stroke="#0a0a0a" stroke-width="0.12">10</text><text x="152.40" y="2136.95" font-size="5.6" text-anchor="end" fill="#0a0a0a" style="letter-spacing:-0.1px;font-weight:bold;" stroke="#0a0a0a" stroke-width="0.12">1</text><text x="155.30" y="2142.50" font-size="5.6" text-anchor="middle" fill="#0a0a0a" style="letter-spacing:-0.1px;font-weight:bold;" stroke="#0a0a0a" stroke-width="0.12">-0.1</text><text x="247.05" y="2142.50" font-size="5.6" text-anchor="middle" fill="#0a0a0a" style="letter-spacing:-0.1px;font-weight:bold;" stroke="#0a0a0a" stroke-width="0.12">-1</text><text x="338.80" y="2142.50" font-size="5.6" text-anchor="middle" fill="#0a0a0a" style="letter-spacing:-0.1px;font-weight:bold;" stroke="#0a0a0a" stroke-width="0.12">-10</text><text x="365.60" y="2142.50" font-size="5.6" text-anchor="middle" fill="#0a0a0a" style="letter-spacing:-0.1px;font-weight:bold;" stroke="#0a0a0a" stroke-width="0.12">-20</text><text x="213.00" y="2151.60" font-size="6.9" text-anchor="start" fill="#0a0a0a" style="" textLength="66.00" lengthAdjust="spacingAndGlyphs" stroke="#0a0a0a" stroke-width="0.26">REVERSE&#160; VOLTAGE</text><text x="288.00" y="2151.60" font-size="6.9" text-anchor="start" fill="#0a0a0a" style="" stroke="#0a0a0a" stroke-width="0.26">V</text><text x="299.80" y="2151.60" font-size="6.9" text-anchor="start" fill="#0a0a0a" style="letter-spacing:-0.2px;" stroke="#0a0a0a" stroke-width="0.26">(V)</text><text x="134.90" y="2092.40" font-size="6.9" text-anchor="start" fill="#0a0a0a" style="" transform="rotate(-90 134.90 2092.40)" textLength="48.00" lengthAdjust="spacingAndGlyphs" stroke="#0a0a0a" stroke-width="0.26">CAPACITANCE</text><text x="134.90" y="2037.30" font-size="6.9" text-anchor="start" fill="#0a0a0a" style="" transform="rotate(-90 134.90 2037.30)" stroke="#0a0a0a" stroke-width="0.26">C</text><text x="134.90" y="2025.40" font-size="6.9" text-anchor="start" fill="#0a0a0a" style="letter-spacing:-0.2px;" transform="rotate(-90 134.90 2025.40)" stroke="#0a0a0a" stroke-width="0.26">(pF)</text><text x="217.00" y="1968.30" font-size="8.2" text-anchor="start" fill="#0a0a0a" style="font-weight:bold;">C</text><text x="222.90" y="1971.30" font-size="4.6" text-anchor="start" fill="#0a0a0a" style="letter-spacing:-0.1px;font-weight:bold;" stroke="#0a0a0a" stroke-width="0.1">ob</text><text x="229.40" y="1968.30" font-size="8.2" text-anchor="start" fill="#0a0a0a" style="font-weight:bold;">/C</text><text x="237.20" y="1971.30" font-size="4.6" text-anchor="start" fill="#0a0a0a" style="letter-spacing:-0.1px;font-weight:bold;" stroke="#0a0a0a" stroke-width="0.1">ib</text><path d="M250.10,1966.00H267.30" stroke="#111" stroke-width="1.3"/><text x="278.00" y="1968.30" font-size="8.2" text-anchor="start" fill="#0a0a0a" style="font-weight:bold;">V</text><text x="283.40" y="1971.30" font-size="4.6" text-anchor="start" fill="#0a0a0a" style="letter-spacing:-0.1px;font-weight:bold;" stroke="#0a0a0a" stroke-width="0.1">CB</text><text x="290.40" y="1968.30" font-size="8.2" text-anchor="start" fill="#0a0a0a" style="font-weight:bold;">/V</text><text x="298.30" y="1971.30" font-size="4.6" text-anchor="start" fill="#0a0a0a" style="letter-spacing:-0.1px;font-weight:bold;" stroke="#0a0a0a" stroke-width="0.1">EB</text></g>
<g><path d="M463.88,1977.10V2137.70M499.26,1977.10V2137.70M534.65,1977.10V2137.70M570.03,1977.10V2137.70M605.41,1977.10V2137.70M428.50,2097.55H640.80M428.50,2057.40H640.80M428.50,2017.25H640.80" stroke="#1a1a1a" stroke-width="1.05" fill="none"/><rect x="428.50" y="1977.10" width="212.30" height="160.60" fill="none" stroke="#111" stroke-width="1.25"/><path d="M428.50,1997.17 L463.88,1997.17 L640.80,2137.70" stroke="#0a0a0a" stroke-width="1.3" fill="none" stroke-linejoin="round"/><text x="425.40" y="2139.65" font-size="5.6" text-anchor="end" fill="#0a0a0a" style="letter-spacing:-0.1px;font-weight:bold;" stroke="#0a0a0a" stroke-width="0.12">0</text><text x="425.40" y="2099.50" font-size="5.6" text-anchor="end" fill="#0a0a0a" style="letter-spacing:-0.1px;font-weight:bold;" stroke="#0a0a0a" stroke-width="0.12">100</text><text x="425.40" y="2059.35" font-size="5.6" text-anchor="end" fill="#0a0a0a" style="letter-spacing:-0.1px;font-weight:bold;" stroke="#0a0a0a" stroke-width="0.12">200</text><text x="425.40" y="2019.20" font-size="5.6" text-anchor="end" fill="#0a0a0a" style="letter-spacing:-0.1px;font-weight:bold;" stroke="#0a0a0a" stroke-width="0.12">300</text><text x="425.40" y="1979.05" font-size="5.6" text-anchor="end" fill="#0a0a0a" style="letter-spacing:-0.1px;font-weight:bold;" stroke="#0a0a0a" stroke-width="0.12">400</text><text x="428.50" y="2144.80" font-size="5.6" text-anchor="middle" fill="#0a0a0a" style="letter-spacing:-0.1px;font-weight:bold;" stroke="#0a0a0a" stroke-width="0.12">0</text><text x="463.88" y="2144.80" font-size="5.6" text-anchor="middle" fill="#0a0a0a" style="letter-spacing:-0.1px;font-weight:bold;" stroke="#0a0a0a" stroke-width="0.12">25</text><text x="499.26" y="2144.80" font-size="5.6" text-anchor="middle" fill="#0a0a0a" style="letter-spacing:-0.1px;font-weight:bold;" stroke="#0a0a0a" stroke-width="0.12">50</text><text x="534.65" y="2144.80" font-size="5.6" text-anchor="middle" fill="#0a0a0a" style="letter-spacing:-0.1px;font-weight:bold;" stroke="#0a0a0a" stroke-width="0.12">75</text><text x="570.03" y="2144.80" font-size="5.6" text-anchor="middle" fill="#0a0a0a" style="letter-spacing:-0.1px;font-weight:bold;" stroke="#0a0a0a" stroke-width="0.12">100</text><text x="605.41" y="2144.80" font-size="5.6" text-anchor="middle" fill="#0a0a0a" style="letter-spacing:-0.1px;font-weight:bold;" stroke="#0a0a0a" stroke-width="0.12">125</text><text x="640.79" y="2144.80" font-size="5.6" text-anchor="middle" fill="#0a0a0a" style="letter-spacing:-0.1px;font-weight:bold;" stroke="#0a0a0a" stroke-width="0.12">150</text><text x="482.70" y="2153.10" font-size="6.9" text-anchor="start" fill="#0a0a0a" style="" textLength="77.20" lengthAdjust="spacingAndGlyphs" stroke="#0a0a0a" stroke-width="0.26">AMBIENT TEMPERATURE</text><text x="571.60" y="2153.10" font-size="6.9" text-anchor="start" fill="#0a0a0a" style="font-weight:bold;" stroke="#0a0a0a" stroke-width="0.26">T</text><text x="577.20" y="2153.10" font-size="3.6" text-anchor="start" fill="#0a0a0a" style="font-weight:bold;" stroke="#0a0a0a" stroke-width="0.26">a</text><text x="585.00" y="2153.10" font-size="6.9" text-anchor="start" fill="#0a0a0a" style="" stroke="#0a0a0a" stroke-width="0.26">(<tspan style="font-family:'Liberation Serif',serif" dx="0.4">°</tspan><tspan style="font-family:'Liberation Serif',serif" dx="-1.1">C</tspan>)</text><text x="398.60" y="2100.70" font-size="6.9" text-anchor="start" fill="#0a0a0a" style="" transform="rotate(-90 398.60 2100.70)" textLength="111.30" lengthAdjust="spacingAndGlyphs" stroke="#0a0a0a" stroke-width="0.26">COLLECTOR POWER DISSIPATION</text><text x="407.80" y="2061.50" font-size="6.9" text-anchor="start" fill="#0a0a0a" style="font-weight:bold;" transform="rotate(-90 407.80 2061.50)" stroke="#0a0a0a" stroke-width="0.26">P<tspan dy="1.6" font-size="0.62em">C</tspan><tspan dy="-1.6" font-size="0.01em">.</tspan></text><text x="407.80" y="2045.50" font-size="6.9" text-anchor="start" fill="#0a0a0a" style="letter-spacing:-0.2px;" transform="rotate(-90 407.80 2045.50)" stroke="#0a0a0a" stroke-width="0.26">(mW)</text><text x="510.90" y="1970.00" font-size="9.6" text-anchor="start" fill="#0a0a0a" style="font-family:'Liberation Serif',serif;">P</text><text x="516.40" y="1973.50" font-size="7.4" text-anchor="start" fill="#0a0a0a" style="letter-spacing:-0.1px;font-weight:bold;font-family:'Liberation Serif',serif;" stroke="#0a0a0a" stroke-width="0.1">c</text><path d="M537.00,1967.00H553.20" stroke="#111" stroke-width="1.3"/><text x="560.60" y="1973.40" font-size="4" text-anchor="start" fill="#0a0a0a" style="font-weight:bold;">a</text><text x="570.30" y="1970.00" font-size="9.6" text-anchor="start" fill="#0a0a0a" style="font-family:'Liberation Serif',serif;">T</text></g>
</svg>
</div>
</body></html>
